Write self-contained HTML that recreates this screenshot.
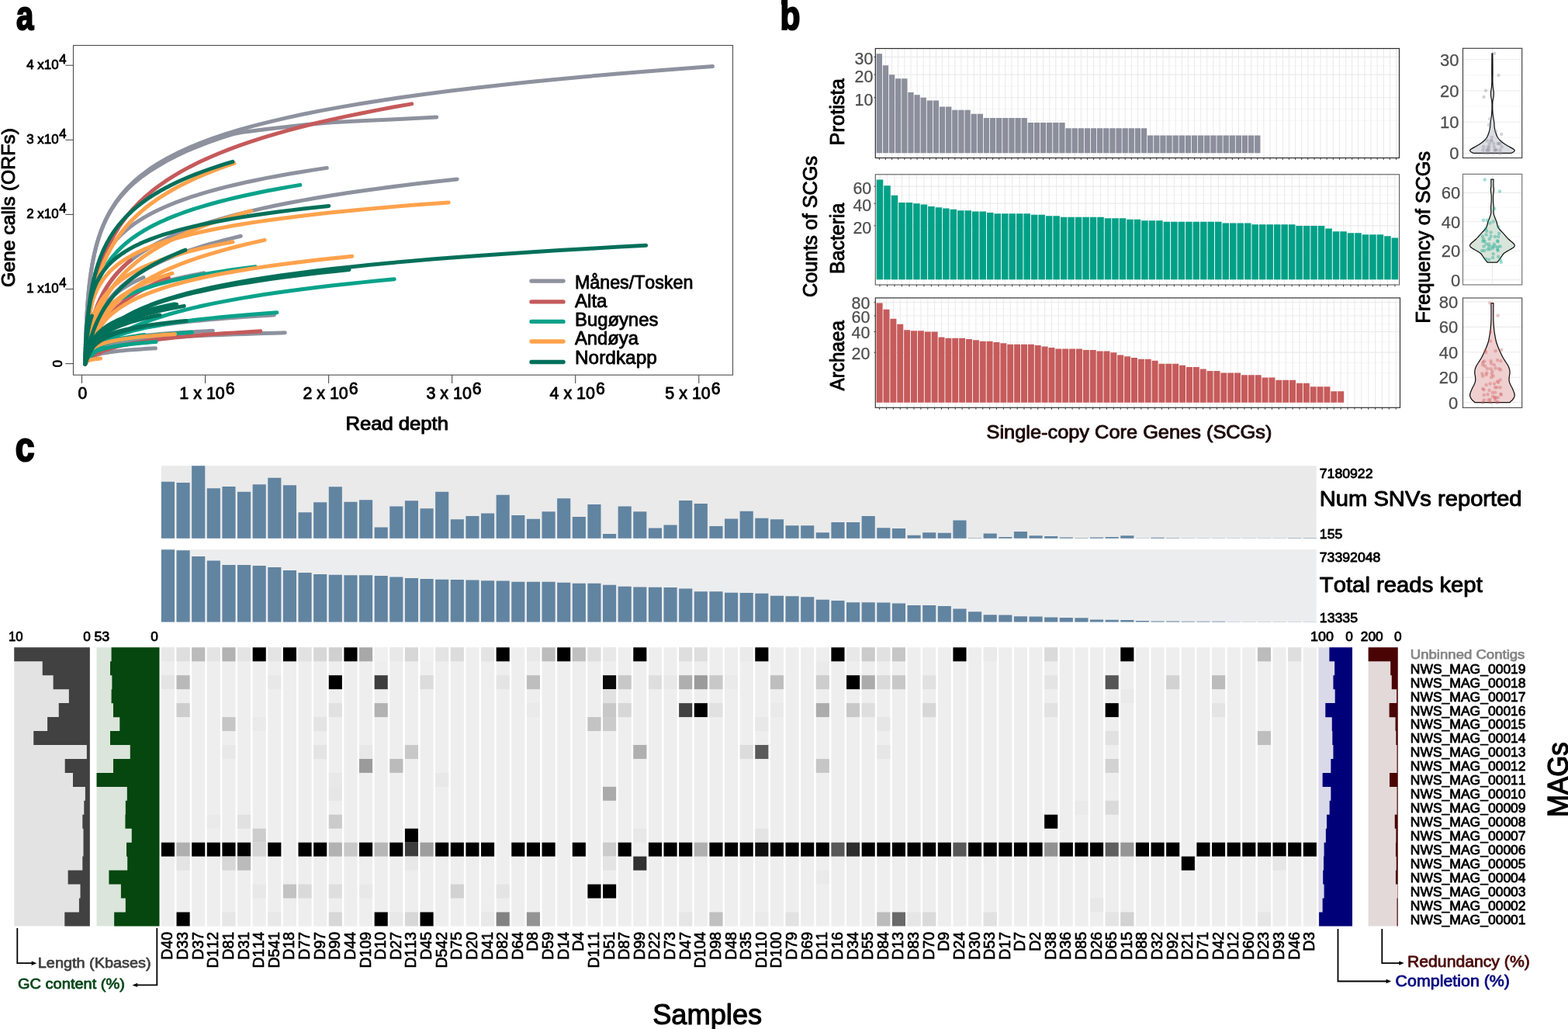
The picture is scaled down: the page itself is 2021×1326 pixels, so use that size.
<!DOCTYPE html>
<html lang="en"><head><meta charset="utf-8"><title>Figure</title>
<style>
html,body{margin:0;padding:0;background:#fff;}
svg{display:block;font-family:"Liberation Sans",sans-serif;}
text{white-space:pre;font-kerning:none;stroke-linejoin:round;}
</style></head><body>
<svg width="2021" height="1326" viewBox="0 0 2021 1326">
<rect width="2021" height="1326" fill="#fff"/>
<g id="panel-a">
<g fill="none" stroke-linecap="round" stroke-linejoin="round">
<path d="M109.7 468.9 L109.73 467.18 L109.91 459.19 L110.3 444.47 L110.96 425.64 L111.96 405.5 L113.33 385.76 L115.12 367.17 L117.37 349.95 L120.11 334.09 L123.4 319.48 L127.25 305.99 L131.7 293.49 L136.79 281.86 L142.55 271.01 L149.01 260.84 L156.19 251.28 L164.12 242.26 L172.84 233.74 L182.37 225.65 L192.74 217.96 L203.97 210.63 L216.09 203.64 L229.13 196.94 L243.1 190.53 L258.04 184.37 L273.96 178.45 L290.9 172.74 L308.87 167.24 L327.9 161.93 L348 156.8 L369.21 151.84 L391.54 147.03 L415.02 142.37 L439.66 137.84 L465.49 133.44 L492.53 129.17 L520.79 125.02 L550.31 120.97 L581.09 117.03 L613.17 113.19 L646.55 109.44 L681.26 105.78 L717.32 102.21 L754.75 98.72 L793.56 95.3 L833.78 91.96 L875.42 88.7 L918.5 85.5" stroke="#8E919E" stroke-width="5" fill="none"/>
<path d="M109.7 468.9 L109.73 467.4 L109.88 460.34 L110.22 447.09 L110.8 429.69 L111.67 410.67 L112.87 391.73 L114.43 373.69 L116.39 356.84 L118.78 341.25 L121.65 326.88 L125 313.65 L128.89 301.4 L133.33 290.02 L138.35 279.41 L143.98 269.5 L150.24 260.21 L157.16 251.48 L164.77 243.27 L173.08 235.51 L182.12 228.18 L191.92 221.23 L202.49 214.55 L213.86 207.87 L226.05 201.46 L239.07 195.31 L252.96 189.39 L267.73 183.69 L283.41 178.2 L300 172.89 L313 170.3 L323.6 169 L345 166.3 L365.2 164 L395.8 160.6 L427.5 157.8 L470 155.4 L515 153.5 L562.7 151" stroke="#8E919E" stroke-width="5" fill="none"/>
<path d="M109.7 468.9 L109.71 468.42 L109.78 466.04 L109.93 461.14 L110.19 453.82 L110.57 444.7 L111.1 434.52 L111.79 423.94 L112.65 413.38 L113.71 403.11 L114.98 393.27 L116.46 383.9 L118.18 375.02 L120.14 366.63 L122.36 358.69 L124.84 351.17 L127.61 344.04 L130.67 337.27 L134.03 330.84 L137.7 324.7 L141.69 318.85 L146.02 313.26 L150.69 307.91 L155.71 302.77 L161.09 297.84 L166.85 293.1 L172.99 288.54 L179.51 284.13 L186.43 279.89 L193.76 275.78 L201.51 271.81 L209.68 267.96 L218.28 264.24 L227.33 260.62 L236.82 257.11 L246.77 253.7 L257.19 250.38 L268.08 247.15 L279.45 244 L291.31 240.94 L303.67 237.95 L316.53 235.04 L329.9 232.19 L343.79 229.41 L358.21 226.69 L373.16 224.03 L388.66 221.44 L404.7 218.89 L421.3 216.4" stroke="#8E919E" stroke-width="5" fill="none"/>
<path d="M109.7 468.9 L109.72 468.68 L109.82 467.59 L110.05 465.22 L110.45 461.41 L111.04 456.2 L111.85 449.78 L112.91 442.46 L114.25 434.51 L115.87 426.22 L117.82 417.8 L120.1 409.41 L122.74 401.15 L125.76 393.09 L129.18 385.27 L133 377.72 L137.26 370.44 L141.96 363.44 L147.13 356.71 L152.78 350.23 L158.93 344 L165.59 338.01 L172.78 332.24 L180.5 326.68 L188.79 321.32 L197.64 316.14 L207.09 311.14 L217.13 306.31 L227.78 301.63 L239.06 297.1 L250.98 292.71 L263.55 288.45 L276.79 284.32 L290.71 280.3 L305.32 276.4 L320.63 272.6 L336.66 268.91 L353.42 265.31 L370.92 261.8 L389.17 258.38 L408.18 255.04 L427.97 251.78 L448.55 248.59 L469.93 245.48 L492.12 242.44 L515.13 239.46 L538.97 236.55 L563.66 233.69 L589.2 230.9" stroke="#8E919E" stroke-width="5" fill="none"/>
<path d="M109.7 468.9 L109.71 468.84 L109.75 468.53 L109.85 467.85 L110.01 466.7 L110.26 465.04 L110.6 462.85 L111.04 460.12 L111.6 456.9 L112.28 453.24 L113.1 449.21 L114.05 444.87 L115.16 440.3 L116.42 435.56 L117.85 430.71 L119.45 425.79 L121.23 420.86 L123.2 415.94 L125.36 411.06 L127.72 406.25 L130.3 401.5 L133.08 396.84 L136.09 392.27 L139.32 387.8 L142.79 383.43 L146.49 379.16 L150.44 375 L154.64 370.93 L159.1 366.96 L163.82 363.09 L168.8 359.31 L174.06 355.62 L179.6 352.02 L185.43 348.51 L191.54 345.08 L197.94 341.73 L204.65 338.46 L211.66 335.26 L218.98 332.14 L226.62 329.08 L234.57 326.09 L242.85 323.17 L251.46 320.3 L260.4 317.5 L269.69 314.75 L279.31 312.06 L289.29 309.42 L299.61 306.84 L310.3 304.3" stroke="#8E919E" stroke-width="5" fill="none"/>
<path d="M109.7 468.9 L109.71 468.83 L109.74 468.46 L109.81 467.66 L109.94 466.35 L110.13 464.49 L110.39 462.11 L110.73 459.28 L111.15 456.07 L111.67 452.59 L112.29 448.93 L113.02 445.15 L113.87 441.33 L114.83 437.51 L115.92 433.73 L117.15 430.02 L118.51 426.38 L120.01 422.84 L121.66 419.4 L123.47 416.06 L125.43 412.82 L127.56 409.69 L129.85 406.65 L132.32 403.71 L134.97 400.86 L137.8 398.11 L140.81 395.43 L144.02 392.84 L147.43 390.32 L151.03 387.88 L154.84 385.51 L158.86 383.21 L163.09 380.97 L167.53 378.79 L172.2 376.67 L177.09 374.6 L182.21 372.59 L187.57 370.63 L193.16 368.71 L198.99 366.85 L205.06 365.02 L211.39 363.24 L217.96 361.5 L224.79 359.79 L231.88 358.13 L239.23 356.49 L246.85 354.9 L254.74 353.33 L262.9 351.8" stroke="#8E919E" stroke-width="5" fill="none"/>
<path d="M109.7 468.9 L109.71 468.81 L109.77 468.38 L109.89 467.49 L110.1 466.2 L110.42 464.62 L110.86 462.91 L111.43 461.16 L112.14 459.44 L113.02 457.79 L114.06 456.22 L115.29 454.73 L116.71 453.34 L118.33 452.02 L120.16 450.78 L122.22 449.61 L124.51 448.5 L127.03 447.45 L129.81 446.45 L132.85 445.5 L136.15 444.59 L139.73 443.73 L143.59 442.9 L147.74 442.11 L152.19 441.35 L156.95 440.61 L162.02 439.91 L167.41 439.23 L173.14 438.58 L179.19 437.94 L185.6 437.33 L192.35 436.74 L199.47 436.16 L206.94 435.61 L214.79 435.07 L223.02 434.54 L231.63 434.03 L240.63 433.53 L250.03 433.05 L259.84 432.58 L270.05 432.12 L280.68 431.67 L291.74 431.23 L303.22 430.8 L315.15 430.38 L327.51 429.97 L340.32 429.57 L353.58 429.18 L367.3 428.8" stroke="#8E919E" stroke-width="5" fill="none"/>
<path d="M109.7 468.9 L109.71 468.83 L109.74 468.5 L109.82 467.79 L109.96 466.71 L110.16 465.34 L110.44 463.76 L110.8 462.07 L111.26 460.36 L111.82 458.67 L112.49 457.02 L113.27 455.44 L114.18 453.94 L115.22 452.5 L116.39 451.14 L117.7 449.85 L119.17 448.61 L120.78 447.44 L122.56 446.33 L124.5 445.26 L126.61 444.24 L128.9 443.27 L131.37 442.33 L134.02 441.44 L136.87 440.58 L139.91 439.75 L143.15 438.95 L146.6 438.18 L150.26 437.44 L154.13 436.72 L158.23 436.02 L162.55 435.35 L167.09 434.69 L171.87 434.06 L176.89 433.44 L182.15 432.85 L187.66 432.26 L193.41 431.7 L199.42 431.15 L205.69 430.61 L212.22 430.08 L219.02 429.57 L226.09 429.07 L233.43 428.58 L241.05 428.11 L248.96 427.64 L257.15 427.18 L265.63 426.74 L274.4 426.3" stroke="#8E919E" stroke-width="5" fill="none"/>
<path d="M109.7 468.9 L109.7 468.89 L109.72 468.82 L109.77 468.69 L109.84 468.46 L109.95 468.14 L110.11 467.73 L110.31 467.25 L110.56 466.7 L110.87 466.1 L111.24 465.47 L111.67 464.82 L112.17 464.17 L112.74 463.51 L113.38 462.86 L114.11 462.23 L114.91 461.6 L115.8 460.99 L116.78 460.4 L117.85 459.83 L119.01 459.27 L120.27 458.74 L121.63 458.22 L123.09 457.71 L124.66 457.22 L126.34 456.75 L128.12 456.29 L130.02 455.84 L132.04 455.41 L134.17 454.99 L136.42 454.59 L138.8 454.19 L141.31 453.81 L143.94 453.43 L146.7 453.07 L149.6 452.71 L152.63 452.37 L155.8 452.03 L159.11 451.7 L162.56 451.38 L166.16 451.07 L169.9 450.76 L173.8 450.46 L177.84 450.17 L182.04 449.89 L186.39 449.61 L190.9 449.33 L195.57 449.06 L200.4 448.8" stroke="#8E919E" stroke-width="5" fill="none"/>
<path d="M109.7 468.9 L109.71 468.85 L109.76 468.61 L109.88 468.08 L110.08 467.21 L110.38 466.01 L110.79 464.51 L111.33 462.76 L112.01 460.82 L112.84 458.76 L113.83 456.64 L114.99 454.49 L116.33 452.36 L117.86 450.25 L119.6 448.19 L121.54 446.19 L123.71 444.25 L126.1 442.37 L128.73 440.55 L131.6 438.8 L134.72 437.11 L138.11 435.48 L141.76 433.91 L145.68 432.39 L149.9 430.93 L154.4 429.51 L159.19 428.14 L164.3 426.81 L169.71 425.53 L175.45 424.28 L181.5 423.07 L187.89 421.9 L194.62 420.76 L201.7 419.66 L209.12 418.58 L216.9 417.53 L225.05 416.51 L233.57 415.52 L242.46 414.55 L251.74 413.6 L261.4 412.68 L271.46 411.78 L281.92 410.9 L292.78 410.04 L304.06 409.19 L315.75 408.37 L327.87 407.56 L340.42 406.77 L353.4 406" stroke="#8E919E" stroke-width="5" fill="none"/>
<path d="M109.7 468.9 L109.7 468.86 L109.72 468.68 L109.76 468.27 L109.82 467.59 L109.91 466.59 L110.04 465.26 L110.2 463.61 L110.41 461.63 L110.67 459.36 L110.98 456.83 L111.33 454.08 L111.75 451.16 L112.22 448.1 L112.76 444.94 L113.36 441.71 L114.03 438.44 L114.77 435.17 L115.58 431.89 L116.47 428.64 L117.43 425.42 L118.48 422.24 L119.61 419.12 L120.82 416.05 L122.12 413.04 L123.51 410.09 L124.99 407.2 L126.57 404.37 L128.24 401.61 L130.01 398.91 L131.89 396.27 L133.86 393.69 L135.94 391.17 L138.13 388.71 L140.42 386.3 L142.82 383.94 L145.34 381.64 L147.97 379.39 L150.72 377.19 L153.59 375.03 L156.57 372.92 L159.68 370.85 L162.91 368.83 L166.27 366.85 L169.75 364.9 L173.37 363 L177.11 361.13 L180.99 359.3 L185 357.5" stroke="#8E919E" stroke-width="5" fill="none"/>
<path d="M109.7 468.9 L109.72 468.59 L109.81 467.05 L110.01 463.72 L110.36 458.35 L110.88 451.02 L111.59 441.99 L112.52 431.68 L113.69 420.5 L115.12 408.83 L116.83 396.98 L118.83 385.16 L121.15 373.53 L123.8 362.19 L126.8 351.18 L130.16 340.56 L133.9 330.32 L138.03 320.46 L142.57 310.98 L147.53 301.87 L152.92 293.1 L158.77 284.66 L165.08 276.54 L171.87 268.71 L179.14 261.17 L186.91 253.88 L195.2 246.84 L204.02 240.04 L213.37 233.46 L223.28 227.08 L233.74 220.9 L244.78 214.91 L256.4 209.09 L268.62 203.44 L281.45 197.95 L294.9 192.6 L308.97 187.4 L323.68 182.33 L339.05 177.39 L355.07 172.57 L371.77 167.87 L389.14 163.29 L407.21 158.8 L425.98 154.42 L445.46 150.14 L465.67 145.95 L486.6 141.85 L508.27 137.83 L530.7 133.9" stroke="#C55A5B" stroke-width="5" fill="none"/>
<path d="M109.7 468.9 L109.71 468.89 L109.76 468.82 L109.87 468.66 L110.05 468.4 L110.33 468.03 L110.71 467.53 L111.21 466.9 L111.84 466.15 L112.61 465.29 L113.53 464.34 L114.61 463.3 L115.85 462.2 L117.27 461.04 L118.88 459.84 L120.69 458.62 L122.7 457.39 L124.91 456.15 L127.35 454.91 L130.02 453.68 L132.91 452.47 L136.05 451.27 L139.44 450.09 L143.09 448.93 L146.99 447.79 L151.17 446.67 L155.62 445.58 L160.35 444.51 L165.38 443.47 L170.7 442.45 L176.32 441.45 L182.25 440.48 L188.49 439.52 L195.05 438.59 L201.94 437.68 L209.16 436.79 L216.72 435.92 L224.62 435.07 L232.87 434.24 L241.48 433.42 L250.44 432.63 L259.78 431.85 L269.48 431.08 L279.56 430.33 L290.02 429.6 L300.87 428.88 L312.12 428.17 L323.76 427.48 L335.8 426.8" stroke="#C55A5B" stroke-width="5" fill="none"/>
<path d="M109.7 468.9 L109.7 468.87 L109.72 468.74 L109.74 468.44 L109.79 467.93 L109.86 467.18 L109.96 466.17 L110.09 464.87 L110.26 463.29 L110.46 461.42 L110.69 459.26 L110.97 456.85 L111.3 454.18 L111.67 451.3 L112.08 448.22 L112.55 444.97 L113.07 441.58 L113.65 438.07 L114.28 434.47 L114.97 430.8 L115.73 427.08 L116.54 423.33 L117.42 419.56 L118.37 415.8 L119.38 412.04 L120.47 408.3 L121.62 404.59 L122.85 400.92 L124.16 397.28 L125.54 393.69 L127 390.15 L128.53 386.65 L130.16 383.21 L131.86 379.82 L133.65 376.49 L135.52 373.21 L137.48 369.98 L139.54 366.81 L141.68 363.69 L143.91 360.63 L146.24 357.62 L148.66 354.66 L151.18 351.75 L153.8 348.89 L156.52 346.08 L159.33 343.31 L162.25 340.6 L165.27 337.93 L168.4 335.3" stroke="#C55A5B" stroke-width="5" fill="none"/>
<path d="M109.7 468.9 L109.7 468.88 L109.73 468.78 L109.78 468.56 L109.87 468.18 L110 467.62 L110.18 466.87 L110.42 465.9 L110.72 464.7 L111.09 463.29 L111.52 461.65 L112.04 459.8 L112.63 457.75 L113.31 455.51 L114.07 453.11 L114.93 450.55 L115.89 447.86 L116.95 445.06 L118.11 442.17 L119.38 439.2 L120.76 436.17 L122.25 433.1 L123.87 430 L125.6 426.88 L127.46 423.76 L129.45 420.63 L131.57 417.52 L133.83 414.43 L136.22 411.36 L138.76 408.31 L141.43 405.3 L144.26 402.31 L147.23 399.37 L150.36 396.47 L153.64 393.6 L157.08 390.77 L160.68 387.99 L164.44 385.25 L168.37 382.55 L172.47 379.89 L176.74 377.28 L181.19 374.7 L185.81 372.17 L190.61 369.68 L195.59 367.22 L200.76 364.81 L206.12 362.44 L211.66 360.1 L217.4 357.8" stroke="#C55A5B" stroke-width="5" fill="none"/>
<path d="M109.7 468.9 L109.71 468.61 L109.77 467.16 L109.91 464.06 L110.13 459.22 L110.47 452.82 L110.94 445.26 L111.56 436.94 L112.33 428.26 L113.27 419.49 L114.39 410.82 L115.71 402.38 L117.24 394.22 L118.98 386.4 L120.95 378.9 L123.17 371.73 L125.63 364.89 L128.35 358.35 L131.33 352.1 L134.6 346.12 L138.15 340.39 L142 334.89 L146.15 329.62 L150.62 324.55 L155.4 319.68 L160.52 314.98 L165.98 310.46 L171.78 306.08 L177.94 301.86 L184.46 297.77 L191.34 293.82 L198.61 289.98 L206.26 286.27 L214.3 282.66 L222.75 279.15 L231.6 275.74 L240.86 272.43 L250.54 269.2 L260.65 266.05 L271.2 262.98 L282.19 259.99 L293.63 257.07 L305.52 254.22 L317.87 251.44 L330.7 248.72 L343.99 246.05 L357.77 243.45 L372.04 240.9 L386.8 238.4" stroke="#09A28A" stroke-width="5" fill="none"/>
<path d="M109.7 468.9 L109.72 468.87 L109.8 468.75 L109.99 468.47 L110.32 467.99 L110.81 467.28 L111.49 466.34 L112.37 465.13 L113.48 463.67 L114.83 461.95 L116.45 459.99 L118.35 457.81 L120.54 455.43 L123.05 452.88 L125.89 450.18 L129.07 447.36 L132.6 444.44 L136.51 441.44 L140.81 438.4 L145.51 435.32 L150.61 432.22 L156.15 429.12 L162.12 426.02 L168.54 422.95 L175.43 419.9 L182.79 416.88 L190.63 413.9 L198.98 410.95 L207.83 408.06 L217.21 405.2 L227.11 402.4 L237.56 399.64 L248.56 396.93 L260.13 394.27 L272.27 391.66 L285 389.1 L298.32 386.59 L312.25 384.12 L326.79 381.7 L341.96 379.32 L357.76 376.99 L374.21 374.7 L391.31 372.45 L409.08 370.25 L427.52 368.08 L446.64 365.96 L466.46 363.87 L486.97 361.82 L508.2 359.8" stroke="#09A28A" stroke-width="5" fill="none"/>
<path d="M109.7 468.9 L109.71 468.87 L109.76 468.72 L109.88 468.38 L110.09 467.82 L110.39 467.01 L110.81 465.96 L111.36 464.67 L112.04 463.18 L112.88 461.51 L113.88 459.69 L115.06 457.78 L116.42 455.79 L117.98 453.77 L119.74 451.72 L121.71 449.68 L123.9 447.65 L126.33 445.65 L128.99 443.69 L131.9 441.76 L135.07 439.88 L138.5 438.04 L142.2 436.25 L146.19 434.5 L150.46 432.81 L155.02 431.15 L159.89 429.55 L165.06 427.98 L170.55 426.46 L176.36 424.98 L182.5 423.54 L188.98 422.14 L195.81 420.77 L202.98 419.44 L210.51 418.14 L218.4 416.87 L226.66 415.64 L235.29 414.43 L244.31 413.25 L253.72 412.1 L263.52 410.98 L273.71 409.88 L284.32 408.8 L295.34 407.75 L306.77 406.72 L318.63 405.71 L330.92 404.72 L343.64 403.75 L356.8 402.8" stroke="#09A28A" stroke-width="5" fill="none"/>
<path d="M109.7 468.9 L109.71 468.78 L109.76 468.21 L109.86 466.96 L110.04 464.96 L110.31 462.22 L110.69 458.85 L111.17 455 L111.78 450.83 L112.53 446.47 L113.42 442.04 L114.46 437.63 L115.67 433.29 L117.06 429.05 L118.62 424.94 L120.37 420.97 L122.32 417.15 L124.48 413.47 L126.84 409.93 L129.43 406.52 L132.25 403.25 L135.3 400.1 L138.59 397.07 L142.13 394.14 L145.92 391.33 L149.98 388.6 L154.3 385.98 L158.9 383.44 L163.78 380.98 L168.94 378.6 L174.4 376.29 L180.16 374.05 L186.22 371.88 L192.6 369.77 L199.29 367.72 L206.3 365.72 L213.64 363.78 L221.32 361.89 L229.33 360.04 L237.69 358.24 L246.4 356.49 L255.46 354.77 L264.89 353.1 L274.68 351.46 L284.84 349.86 L295.38 348.3 L306.3 346.77 L317.6 345.27 L329.3 343.8" stroke="#09A28A" stroke-width="5" fill="none"/>
<path d="M109.7 468.9 L109.71 468.86 L109.74 468.68 L109.8 468.27 L109.92 467.62 L110.08 466.73 L110.32 465.64 L110.62 464.39 L111.01 463.03 L111.47 461.62 L112.03 460.18 L112.69 458.75 L113.45 457.34 L114.31 455.97 L115.29 454.63 L116.39 453.35 L117.61 452.1 L118.97 450.91 L120.45 449.76 L122.07 448.66 L123.84 447.59 L125.75 446.57 L127.81 445.59 L130.03 444.64 L132.41 443.72 L134.96 442.84 L137.67 441.99 L140.55 441.16 L143.61 440.37 L146.85 439.59 L150.27 438.84 L153.88 438.12 L157.68 437.41 L161.68 436.73 L165.88 436.06 L170.27 435.41 L174.88 434.78 L179.69 434.17 L184.71 433.57 L189.96 432.99 L195.42 432.42 L201.1 431.86 L207.01 431.32 L213.15 430.79 L219.52 430.27 L226.13 429.76 L232.98 429.26 L240.07 428.78 L247.4 428.3" stroke="#09A28A" stroke-width="5" fill="none"/>
<path d="M109.7 468.9 L109.7 468.88 L109.72 468.79 L109.77 468.6 L109.84 468.28 L109.96 467.83 L110.11 467.25 L110.31 466.57 L110.57 465.79 L110.88 464.95 L111.25 464.06 L111.68 463.14 L112.18 462.21 L112.76 461.29 L113.41 460.37 L114.14 459.47 L114.95 458.59 L115.84 457.73 L116.83 456.9 L117.9 456.09 L119.07 455.3 L120.34 454.54 L121.71 453.8 L123.18 453.09 L124.76 452.4 L126.45 451.73 L128.24 451.08 L130.15 450.45 L132.18 449.84 L134.33 449.25 L136.6 448.68 L138.99 448.12 L141.52 447.57 L144.17 447.05 L146.95 446.53 L149.86 446.03 L152.91 445.54 L156.11 445.07 L159.44 444.6 L162.91 444.15 L166.53 443.71 L170.3 443.27 L174.22 442.85 L178.29 442.44 L182.51 442.03 L186.9 441.64 L191.44 441.25 L196.14 440.87 L201 440.5" stroke="#09A28A" stroke-width="5" fill="none"/>
<path d="M109.7 468.9 L109.7 468.87 L109.73 468.75 L109.79 468.47 L109.88 467.99 L110.02 467.3 L110.22 466.38 L110.47 465.24 L110.79 463.87 L111.18 462.3 L111.65 460.55 L112.2 458.65 L112.84 456.62 L113.56 454.5 L114.38 452.32 L115.3 450.08 L116.33 447.82 L117.46 445.55 L118.7 443.29 L120.06 441.03 L121.54 438.81 L123.14 436.61 L124.87 434.45 L126.73 432.32 L128.72 430.24 L130.85 428.19 L133.12 426.2 L135.53 424.24 L138.09 422.33 L140.81 420.46 L143.67 418.63 L146.69 416.85 L149.88 415.1 L153.22 413.4 L156.74 411.73 L160.42 410.1 L164.27 408.51 L168.3 406.95 L172.51 405.42 L176.9 403.93 L181.47 402.47 L186.23 401.04 L191.18 399.64 L196.32 398.27 L201.66 396.92 L207.19 395.61 L212.92 394.31 L218.86 393.04 L225 391.8" stroke="#09A28A" stroke-width="5" fill="none"/>
<path d="M109.7 468.9 L109.7 468.88 L109.72 468.8 L109.76 468.61 L109.82 468.29 L109.91 467.83 L110.04 467.24 L110.21 466.51 L110.42 465.66 L110.68 464.72 L110.99 463.69 L111.36 462.61 L111.78 461.48 L112.26 460.34 L112.8 459.18 L113.41 458.03 L114.09 456.88 L114.83 455.75 L115.66 454.63 L116.56 453.54 L117.53 452.48 L118.59 451.44 L119.74 450.42 L120.97 449.44 L122.28 448.48 L123.69 447.54 L125.2 446.63 L126.79 445.75 L128.49 444.89 L130.28 444.05 L132.18 443.24 L134.18 442.44 L136.29 441.67 L138.5 440.91 L140.83 440.18 L143.26 439.46 L145.81 438.76 L148.48 438.08 L151.27 437.41 L154.17 436.76 L157.2 436.13 L160.34 435.5 L163.62 434.9 L167.02 434.3 L170.55 433.72 L174.21 433.15 L178.01 432.59 L181.94 432.04 L186 431.5" stroke="#09A28A" stroke-width="5" fill="none"/>
<path d="M109.7 468.9 L109.71 468.76 L109.75 468.06 L109.84 466.51 L110 463.95 L110.24 460.31 L110.56 455.59 L110.99 449.91 L111.52 443.39 L112.17 436.22 L112.95 428.57 L113.87 420.6 L114.93 412.44 L116.14 404.21 L117.5 396 L119.04 387.87 L120.74 379.87 L122.63 372.02 L124.7 364.37 L126.96 356.91 L129.42 349.65 L132.09 342.6 L134.97 335.76 L138.07 329.11 L141.38 322.66 L144.93 316.4 L148.71 310.33 L152.74 304.43 L157.01 298.7 L161.52 293.14 L166.3 287.73 L171.34 282.46 L176.64 277.34 L182.22 272.36 L188.07 267.5 L194.2 262.77 L200.63 258.16 L207.34 253.66 L214.35 249.27 L221.66 244.98 L229.28 240.79 L237.21 236.7 L245.45 232.69 L254.02 228.78 L262.91 224.95 L272.12 221.2 L281.68 217.52 L291.57 213.93 L301.8 210.4" stroke="#FFA24C" stroke-width="5" fill="none"/>
<path d="M109.7 468.9 L109.72 468.2 L109.82 464.84 L110.05 458.37 L110.43 449.57 L111.01 439.66 L111.8 429.53 L112.84 419.71 L114.14 410.43 L115.73 401.76 L117.63 393.69 L119.86 386.18 L122.45 379.19 L125.39 372.66 L128.73 366.55 L132.47 360.8 L136.63 355.39 L141.22 350.28 L146.28 345.45 L151.8 340.85 L157.8 336.48 L164.31 332.31 L171.33 328.33 L178.88 324.52 L186.97 320.86 L195.63 317.35 L204.85 313.97 L214.66 310.72 L225.07 307.59 L236.09 304.56 L247.74 301.63 L260.02 298.79 L272.96 296.05 L286.56 293.39 L300.83 290.8 L315.79 288.29 L331.45 285.85 L347.83 283.48 L364.92 281.17 L382.76 278.92 L401.33 276.72 L420.67 274.58 L440.78 272.49 L461.67 270.45 L483.35 268.45 L505.83 266.5 L529.12 264.59 L553.24 262.73 L578.2 260.9" stroke="#FFA24C" stroke-width="5" fill="none"/>
<path d="M109.7 468.9 L109.71 468.84 L109.76 468.51 L109.86 467.79 L110.03 466.58 L110.3 464.81 L110.66 462.46 L111.13 459.53 L111.73 456.03 L112.46 452.01 L113.33 447.53 L114.35 442.67 L115.53 437.5 L116.88 432.08 L118.4 426.48 L120.11 420.77 L122.01 414.99 L124.11 409.18 L126.42 403.39 L128.95 397.63 L131.69 391.93 L134.67 386.31 L137.88 380.78 L141.33 375.34 L145.03 370.01 L148.99 364.79 L153.2 359.68 L157.69 354.67 L162.45 349.78 L167.49 345 L172.81 340.33 L178.43 335.77 L184.34 331.3 L190.56 326.94 L197.09 322.68 L203.93 318.51 L211.09 314.44 L218.57 310.45 L226.39 306.55 L234.54 302.73 L243.04 299 L251.88 295.34 L261.07 291.75 L270.62 288.24 L280.53 284.8 L290.81 281.43 L301.46 278.13 L312.49 274.88 L323.9 271.7" stroke="#FFA24C" stroke-width="5" fill="none"/>
<path d="M109.7 468.9 L109.71 468.86 L109.76 468.63 L109.87 468.13 L110.06 467.29 L110.35 466.05 L110.74 464.4 L111.25 462.31 L111.89 459.8 L112.68 456.89 L113.62 453.62 L114.72 450.02 L115.99 446.14 L117.45 442.03 L119.09 437.75 L120.94 433.33 L122.99 428.81 L125.26 424.23 L127.76 419.63 L130.48 415.01 L133.45 410.42 L136.66 405.86 L140.13 401.35 L143.85 396.89 L147.85 392.5 L152.12 388.18 L156.68 383.94 L161.52 379.77 L166.66 375.69 L172.1 371.69 L177.85 367.76 L183.91 363.92 L190.3 360.16 L197.01 356.48 L204.06 352.87 L211.45 349.34 L219.18 345.88 L227.26 342.49 L235.7 339.18 L244.51 335.93 L253.68 332.74 L263.23 329.62 L273.15 326.56 L283.47 323.56 L294.17 320.62 L305.27 317.74 L316.77 314.91 L328.68 312.13 L341 309.4" stroke="#FFA24C" stroke-width="5" fill="none"/>
<path d="M109.7 468.9 L109.71 468.78 L109.75 468.17 L109.84 466.84 L110 464.68 L110.23 461.69 L110.55 457.93 L110.97 453.55 L111.5 448.71 L112.15 443.57 L112.92 438.26 L113.83 432.9 L114.88 427.56 L116.07 422.29 L117.43 417.15 L118.95 412.14 L120.64 407.28 L122.5 402.59 L124.56 398.06 L126.8 393.68 L129.24 389.46 L131.88 385.39 L134.73 381.46 L137.8 377.66 L141.09 374 L144.6 370.46 L148.35 367.03 L152.33 363.72 L156.56 360.5 L161.04 357.39 L165.77 354.37 L170.76 351.44 L176.01 348.6 L181.54 345.83 L187.33 343.14 L193.41 340.52 L199.77 337.97 L206.42 335.48 L213.37 333.06 L220.61 330.7 L228.16 328.39 L236.01 326.14 L244.18 323.94 L252.66 321.79 L261.47 319.68 L270.6 317.62 L280.07 315.61 L289.86 313.63 L300 311.7" stroke="#FFA24C" stroke-width="5" fill="none"/>
<path d="M109.7 468.9 L109.71 468.82 L109.79 468.42 L109.95 467.53 L110.24 466.06 L110.66 463.98 L111.24 461.31 L112.01 458.1 L112.96 454.45 L114.13 450.46 L115.53 446.24 L117.17 441.86 L119.06 437.4 L121.23 432.93 L123.68 428.49 L126.42 424.11 L129.48 419.81 L132.85 415.61 L136.56 411.52 L140.62 407.54 L145.03 403.68 L149.81 399.94 L154.96 396.3 L160.51 392.78 L166.46 389.37 L172.81 386.06 L179.59 382.85 L186.79 379.74 L194.44 376.72 L202.53 373.79 L211.08 370.93 L220.11 368.16 L229.61 365.47 L239.6 362.84 L250.08 360.29 L261.07 357.8 L272.57 355.38 L284.6 353.01 L297.15 350.7 L310.25 348.45 L323.9 346.25 L338.1 344.1 L352.87 342 L368.21 339.94 L384.13 337.93 L400.64 335.97 L417.75 334.04 L435.47 332.15 L453.8 330.3" stroke="#FFA24C" stroke-width="5" fill="none"/>
<path d="M109.7 468.9 L109.7 468.86 L109.73 468.67 L109.78 468.24 L109.88 467.53 L110.01 466.48 L110.2 465.09 L110.45 463.35 L110.76 461.28 L111.15 458.9 L111.6 456.26 L112.14 453.38 L112.76 450.32 L113.46 447.11 L114.26 443.8 L115.16 440.42 L116.15 437 L117.26 433.56 L118.47 430.13 L119.79 426.72 L121.23 423.35 L122.79 420.02 L124.47 416.75 L126.28 413.53 L128.22 410.38 L130.3 407.29 L132.51 404.26 L134.86 401.3 L137.35 398.41 L140 395.58 L142.79 392.82 L145.73 390.11 L148.83 387.47 L152.09 384.89 L155.51 382.37 L159.1 379.9 L162.85 377.49 L166.78 375.13 L170.88 372.82 L175.15 370.56 L179.61 368.35 L184.24 366.19 L189.06 364.07 L194.07 361.99 L199.26 359.96 L204.65 357.96 L210.24 356 L216.02 354.08 L222 352.2" stroke="#FFA24C" stroke-width="5" fill="none"/>
<path d="M109.7 468.9 L109.7 468.85 L109.73 468.61 L109.79 468.09 L109.88 467.29 L110.02 466.22 L110.22 464.96 L110.48 463.58 L110.8 462.13 L111.19 460.67 L111.66 459.22 L112.21 457.82 L112.85 456.46 L113.58 455.16 L114.4 453.91 L115.33 452.71 L116.36 451.57 L117.49 450.48 L118.74 449.44 L120.1 448.44 L121.59 447.49 L123.2 446.58 L124.93 445.7 L126.8 444.85 L128.8 444.04 L130.94 443.26 L133.22 442.5 L135.64 441.78 L138.22 441.07 L140.94 440.39 L143.82 439.73 L146.86 439.09 L150.05 438.47 L153.41 437.87 L156.94 437.29 L160.64 436.72 L164.51 436.17 L168.56 435.63 L172.78 435.11 L177.19 434.6 L181.78 434.1 L186.56 433.61 L191.53 433.14 L196.7 432.67 L202.05 432.22 L207.61 431.78 L213.37 431.34 L219.33 430.92 L225.5 430.5" stroke="#FFA24C" stroke-width="5" fill="none"/>
<path d="M109.7 468.9 L109.7 468.9 L109.71 468.88 L109.71 468.84 L109.73 468.77 L109.76 468.67 L109.79 468.54 L109.83 468.39 L109.89 468.22 L109.95 468.03 L110.04 467.82 L110.13 467.61 L110.24 467.39 L110.36 467.17 L110.5 466.95 L110.66 466.74 L110.84 466.52 L111.03 466.31 L111.25 466.11 L111.48 465.91 L111.73 465.72 L112.01 465.53 L112.3 465.35 L112.62 465.17 L112.97 465 L113.33 464.83 L113.72 464.67 L114.14 464.51 L114.58 464.36 L115.04 464.21 L115.53 464.06 L116.05 463.92 L116.6 463.79 L117.17 463.65 L117.78 463.52 L118.41 463.4 L119.07 463.27 L119.76 463.15 L120.49 463.04 L121.24 462.92 L122.03 462.81 L122.84 462.7 L123.69 462.6 L124.57 462.49 L125.49 462.39 L126.44 462.29 L127.43 462.19 L128.45 462.09 L129.5 462" stroke="#FFA24C" stroke-width="5" fill="none"/>
<path d="M109.7 468.9 L109.73 468.81 L109.89 468.37 L110.24 467.39 L110.83 465.77 L111.72 463.48 L112.94 460.54 L114.54 457.01 L116.55 452.99 L119.01 448.6 L121.94 443.95 L125.38 439.13 L129.37 434.22 L133.92 429.3 L139.06 424.41 L144.83 419.58 L151.25 414.85 L158.34 410.23 L166.14 405.72 L174.65 401.34 L183.92 397.09 L193.96 392.97 L204.79 388.97 L216.44 385.1 L228.93 381.34 L242.29 377.7 L256.52 374.16 L271.66 370.74 L287.72 367.41 L304.72 364.18 L322.69 361.04 L341.65 357.99 L361.61 355.02 L382.59 352.13 L404.61 349.32 L427.7 346.58 L451.87 343.91 L477.13 341.31 L503.51 338.76 L531.03 336.28 L559.69 333.86 L589.53 331.5 L620.56 329.18 L652.79 326.92 L686.24 324.7 L720.93 322.54 L756.87 320.42 L794.09 318.34 L832.6 316.3" stroke="#03705A" stroke-width="5" fill="none"/>
<path d="M109.7 468.9 L109.71 468.85 L109.79 468.63 L109.95 468.12 L110.23 467.28 L110.65 466.06 L111.23 464.44 L111.98 462.43 L112.93 460.06 L114.08 457.36 L115.46 454.39 L117.08 451.19 L118.96 447.82 L121.1 444.33 L123.52 440.75 L126.24 437.13 L129.26 433.5 L132.6 429.87 L136.27 426.28 L140.28 422.73 L144.64 419.23 L149.36 415.8 L154.46 412.43 L159.95 409.14 L165.83 405.92 L172.11 402.77 L178.81 399.7 L185.94 396.7 L193.5 393.78 L201.51 390.92 L209.97 388.14 L218.89 385.42 L228.28 382.77 L238.16 380.18 L248.53 377.65 L259.4 375.19 L270.77 372.78 L282.67 370.42 L295.08 368.12 L308.04 365.86 L321.53 363.66 L335.58 361.5 L350.18 359.39 L365.35 357.33 L381.1 355.3 L397.43 353.32 L414.35 351.38 L431.87 349.47 L450 347.6" stroke="#03705A" stroke-width="5" fill="none"/>
<path d="M109.7 468.9 L109.71 468.21 L109.78 464.93 L109.93 458.59 L110.19 449.99 L110.58 440.29 L111.11 430.38 L111.8 420.78 L112.68 411.7 L113.74 403.21 L115.02 395.32 L116.51 387.97 L118.24 381.13 L120.22 374.74 L122.46 368.76 L124.96 363.14 L127.75 357.85 L130.84 352.85 L134.22 348.12 L137.92 343.62 L141.95 339.35 L146.31 335.27 L151.02 331.37 L156.08 327.64 L161.51 324.07 L167.31 320.63 L173.49 317.33 L180.07 314.14 L187.05 311.08 L194.44 308.11 L202.25 305.25 L210.48 302.47 L219.15 299.79 L228.27 297.18 L237.84 294.65 L247.87 292.2 L258.37 289.81 L269.35 287.49 L280.81 285.23 L292.77 283.03 L305.22 280.88 L318.19 278.78 L331.67 276.74 L345.67 274.74 L360.21 272.79 L375.28 270.88 L390.9 269.01 L407.07 267.19 L423.8 265.4" stroke="#03705A" stroke-width="5" fill="none"/>
<path d="M109.7 468.9 L109.71 468.66 L109.75 467.46 L109.84 464.87 L110 460.7 L110.23 455 L110.55 447.98 L110.97 439.96 L111.5 431.26 L112.15 422.19 L112.92 412.97 L113.83 403.78 L114.87 394.74 L116.07 385.92 L117.43 377.36 L118.94 369.1 L120.63 361.14 L122.5 353.47 L124.55 346.1 L126.79 339.01 L129.23 332.2 L131.87 325.64 L134.72 319.32 L137.79 313.23 L141.07 307.36 L144.58 301.7 L148.33 296.23 L152.31 290.94 L156.54 285.82 L161.01 280.86 L165.74 276.05 L170.73 271.39 L175.98 266.87 L181.5 262.47 L187.29 258.2 L193.37 254.05 L199.73 250 L206.37 246.06 L213.31 242.22 L220.55 238.47 L228.1 234.82 L235.95 231.25 L244.11 227.77 L252.59 224.36 L261.39 221.03 L270.52 217.77 L279.98 214.58 L289.77 211.46 L299.9 208.4" stroke="#03705A" stroke-width="5" fill="none"/>
<path d="M109.7 468.9 L109.71 468.87 L109.73 468.7 L109.8 468.32 L109.9 467.67 L110.06 466.73 L110.28 465.45 L110.57 463.83 L110.93 461.87 L111.36 459.56 L111.89 456.92 L112.51 453.99 L113.22 450.79 L114.03 447.36 L114.95 443.73 L115.98 439.93 L117.13 436 L118.4 431.98 L119.79 427.88 L121.32 423.74 L122.98 419.58 L124.77 415.41 L126.71 411.25 L128.79 407.11 L131.03 403.01 L133.41 398.95 L135.96 394.94 L138.67 390.98 L141.54 387.09 L144.58 383.25 L147.8 379.48 L151.19 375.77 L154.76 372.13 L158.51 368.56 L162.45 365.05 L166.58 361.6 L170.9 358.22 L175.42 354.9 L180.14 351.64 L185.06 348.45 L190.19 345.31 L195.52 342.24 L201.07 339.21 L206.84 336.25 L212.82 333.34 L219.03 330.48 L225.46 327.67 L232.11 324.91 L239 322.2" stroke="#03705A" stroke-width="5" fill="none"/>
<path d="M109.7 468.9 L109.71 468.88 L109.73 468.75 L109.79 468.48 L109.9 468.02 L110.06 467.36 L110.27 466.47 L110.55 465.36 L110.91 464.04 L111.34 462.52 L111.86 460.83 L112.47 458.99 L113.17 457.04 L113.97 454.99 L114.88 452.87 L115.9 450.72 L117.03 448.53 L118.28 446.34 L119.65 444.15 L121.16 441.97 L122.79 439.82 L124.56 437.7 L126.47 435.61 L128.53 433.55 L130.73 431.54 L133.08 429.57 L135.59 427.64 L138.26 425.75 L141.1 423.9 L144.1 422.09 L147.27 420.33 L150.61 418.6 L154.13 416.92 L157.83 415.27 L161.71 413.66 L165.79 412.08 L170.05 410.55 L174.5 409.04 L179.16 407.57 L184.01 406.12 L189.07 404.71 L194.33 403.33 L199.8 401.98 L205.49 400.65 L211.39 399.35 L217.5 398.08 L223.84 396.83 L230.41 395.6 L237.2 394.4" stroke="#03705A" stroke-width="5" fill="none"/>
<path d="M109.7 468.9 L109.71 468.86 L109.73 468.69 L109.79 468.3 L109.88 467.65 L110.03 466.71 L110.23 465.49 L110.49 464 L110.82 462.26 L111.22 460.32 L111.7 458.22 L112.26 456 L112.91 453.69 L113.65 451.34 L114.49 448.97 L115.43 446.6 L116.48 444.25 L117.63 441.93 L118.9 439.64 L120.29 437.41 L121.8 435.22 L123.44 433.09 L125.21 431.01 L127.11 428.99 L129.15 427.02 L131.32 425.1 L133.65 423.24 L136.11 421.42 L138.73 419.66 L141.51 417.94 L144.44 416.27 L147.53 414.64 L150.78 413.05 L154.21 411.51 L157.8 410 L161.56 408.53 L165.5 407.1 L169.63 405.7 L173.93 404.33 L178.42 402.99 L183.09 401.69 L187.96 400.41 L193.02 399.16 L198.27 397.94 L203.73 396.75 L209.39 395.57 L215.25 394.43 L221.32 393.3 L227.6 392.2" stroke="#03705A" stroke-width="5" fill="none"/>
<path d="M109.7 468.9 L109.71 468.86 L109.73 468.64 L109.8 468.17 L109.9 467.41 L110.06 466.35 L110.29 465.03 L110.57 463.48 L110.94 461.77 L111.38 459.96 L111.91 458.08 L112.53 456.19 L113.25 454.3 L114.07 452.45 L115 450.63 L116.04 448.86 L117.2 447.15 L118.48 445.49 L119.89 443.89 L121.43 442.34 L123.1 440.85 L124.91 439.42 L126.87 438.03 L128.97 436.69 L131.22 435.4 L133.63 434.14 L136.2 432.93 L138.94 431.76 L141.84 430.63 L144.91 429.53 L148.15 428.47 L151.57 427.43 L155.18 426.43 L158.96 425.45 L162.94 424.5 L167.11 423.57 L171.47 422.67 L176.03 421.8 L180.79 420.94 L185.76 420.11 L190.93 419.29 L196.32 418.5 L201.92 417.72 L207.74 416.96 L213.78 416.22 L220.04 415.49 L226.53 414.78 L233.25 414.08 L240.2 413.4" stroke="#03705A" stroke-width="5" fill="none"/>
<path d="M109.7 468.9 L109.7 468.88 L109.72 468.78 L109.77 468.55 L109.85 468.16 L109.97 467.6 L110.13 466.85 L110.35 465.91 L110.61 464.79 L110.94 463.51 L111.33 462.08 L111.79 460.53 L112.32 458.88 L112.93 457.15 L113.61 455.37 L114.38 453.55 L115.23 451.7 L116.18 449.85 L117.22 448 L118.35 446.17 L119.59 444.35 L120.92 442.56 L122.37 440.79 L123.92 439.06 L125.58 437.36 L127.36 435.69 L129.26 434.06 L131.27 432.47 L133.41 430.91 L135.68 429.38 L138.07 427.89 L140.6 426.43 L143.26 425.01 L146.05 423.62 L148.99 422.26 L152.06 420.93 L155.28 419.63 L158.65 418.36 L162.16 417.12 L165.83 415.9 L169.65 414.71 L173.62 413.54 L177.75 412.4 L182.05 411.28 L186.5 410.18 L191.12 409.1 L195.91 408.05 L200.87 407.02 L206 406" stroke="#03705A" stroke-width="5" fill="none"/>
<path d="M109.7 468.9 L109.7 468.88 L109.72 468.81 L109.76 468.63 L109.82 468.33 L109.91 467.9 L110.04 467.33 L110.21 466.61 L110.42 465.76 L110.67 464.78 L110.98 463.69 L111.34 462.5 L111.75 461.24 L112.23 459.92 L112.77 458.55 L113.37 457.16 L114.04 455.75 L114.78 454.33 L115.59 452.92 L116.48 451.52 L117.45 450.13 L118.5 448.75 L119.63 447.41 L120.85 446.08 L122.15 444.78 L123.55 443.51 L125.03 442.26 L126.61 441.04 L128.29 439.85 L130.07 438.68 L131.95 437.54 L133.92 436.43 L136.01 435.34 L138.2 434.27 L140.5 433.23 L142.91 432.22 L145.44 431.22 L148.07 430.25 L150.83 429.3 L153.7 428.37 L156.7 427.46 L159.81 426.57 L163.05 425.69 L166.42 424.84 L169.91 424 L173.54 423.17 L177.29 422.37 L181.18 421.58 L185.2 420.8" stroke="#03705A" stroke-width="5" fill="none"/>
<path d="M109.7 468.9 L109.7 468.89 L109.7 468.84 L109.71 468.73 L109.71 468.55 L109.72 468.28 L109.74 467.91 L109.76 467.43 L109.78 466.84 L109.81 466.14 L109.85 465.32 L109.89 464.39 L109.94 463.35 L109.99 462.21 L110.05 460.97 L110.12 459.65 L110.2 458.24 L110.29 456.77 L110.38 455.23 L110.48 453.64 L110.59 452.01 L110.71 450.34 L110.84 448.64 L110.98 446.93 L111.13 445.2 L111.3 443.46 L111.47 441.71 L111.65 439.97 L111.84 438.23 L112.05 436.5 L112.26 434.78 L112.49 433.07 L112.73 431.38 L112.98 429.71 L113.25 428.05 L113.53 426.41 L113.82 424.79 L114.12 423.19 L114.44 421.61 L114.77 420.05 L115.12 418.52 L115.47 417 L115.85 415.51 L116.24 414.04 L116.64 412.59 L117.06 411.16 L117.49 409.75 L117.94 408.37 L118.4 407" stroke="#03705A" stroke-width="5" fill="none"/>
</g>
<rect x="94.5" y="58.5" width="850" height="424.7" fill="none" stroke="#4d4d4d" stroke-width="1.1"/>
<line x1="105.5" y1="483.2" x2="105.5" y2="493.9" stroke="#4d4d4d" stroke-width="1.1"/>
<line x1="264.55" y1="483.2" x2="264.55" y2="493.9" stroke="#4d4d4d" stroke-width="1.1"/>
<line x1="423.6" y1="483.2" x2="423.6" y2="493.9" stroke="#4d4d4d" stroke-width="1.1"/>
<line x1="582.65" y1="483.2" x2="582.65" y2="493.9" stroke="#4d4d4d" stroke-width="1.1"/>
<line x1="741.7" y1="483.2" x2="741.7" y2="493.9" stroke="#4d4d4d" stroke-width="1.1"/>
<line x1="900.75" y1="483.2" x2="900.75" y2="493.9" stroke="#4d4d4d" stroke-width="1.1"/>
<line x1="84.3" y1="468.6" x2="94.5" y2="468.6" stroke="#4d4d4d" stroke-width="1.1"/>
<line x1="84.3" y1="372.5" x2="94.5" y2="372.5" stroke="#4d4d4d" stroke-width="1.1"/>
<line x1="84.3" y1="276.4" x2="94.5" y2="276.4" stroke="#4d4d4d" stroke-width="1.1"/>
<line x1="84.3" y1="180.3" x2="94.5" y2="180.3" stroke="#4d4d4d" stroke-width="1.1"/>
<line x1="84.3" y1="84.2" x2="94.5" y2="84.2" stroke="#4d4d4d" stroke-width="1.1"/>
<text x="34.3" y="377.3" font-size="16.7" textLength="41.3" lengthAdjust="spacingAndGlyphs" stroke="#000" stroke-width="0.8">1 x10</text>
<text x="76.2" y="370.3" font-size="16.7" stroke="#000" stroke-width="0.8">4</text>
<text x="34.3" y="281.2" font-size="16.7" textLength="41.3" lengthAdjust="spacingAndGlyphs" stroke="#000" stroke-width="0.8">2 x10</text>
<text x="76.2" y="274.2" font-size="16.7" stroke="#000" stroke-width="0.8">4</text>
<text x="34.3" y="185.1" font-size="16.7" textLength="41.3" lengthAdjust="spacingAndGlyphs" stroke="#000" stroke-width="0.8">3 x10</text>
<text x="76.2" y="178.1" font-size="16.7" stroke="#000" stroke-width="0.8">4</text>
<text x="34.3" y="89" font-size="16.7" textLength="41.3" lengthAdjust="spacingAndGlyphs" stroke="#000" stroke-width="0.8">4 x10</text>
<text x="76.2" y="82" font-size="16.7" stroke="#000" stroke-width="0.8">4</text>
<text x="80.3" y="468.6" font-size="16.7" text-anchor="middle" transform="rotate(-90 80.3 468.6)" stroke="#000" stroke-width="0.8">0</text>
<text x="106.3" y="513.5" font-size="21.2" text-anchor="middle" stroke="#000" stroke-width="0.85">0</text>
<text x="231.35" y="513.5" font-size="21.2" textLength="58.4" lengthAdjust="spacingAndGlyphs" stroke="#000" stroke-width="0.85">1 x 10</text>
<text x="290.75" y="507.6" font-size="21.2" stroke="#000" stroke-width="0.85">6</text>
<text x="390.4" y="513.5" font-size="21.2" textLength="58.4" lengthAdjust="spacingAndGlyphs" stroke="#000" stroke-width="0.85">2 x 10</text>
<text x="449.8" y="507.6" font-size="21.2" stroke="#000" stroke-width="0.85">6</text>
<text x="549.45" y="513.5" font-size="21.2" textLength="58.4" lengthAdjust="spacingAndGlyphs" stroke="#000" stroke-width="0.85">3 x 10</text>
<text x="608.85" y="507.6" font-size="21.2" stroke="#000" stroke-width="0.85">6</text>
<text x="708.5" y="513.5" font-size="21.2" textLength="58.4" lengthAdjust="spacingAndGlyphs" stroke="#000" stroke-width="0.85">4 x 10</text>
<text x="767.9" y="507.6" font-size="21.2" stroke="#000" stroke-width="0.85">6</text>
<text x="857.35" y="513.5" font-size="21.2" textLength="58.4" lengthAdjust="spacingAndGlyphs" stroke="#000" stroke-width="0.85">5 x 10</text>
<text x="916.75" y="507.6" font-size="21.2" stroke="#000" stroke-width="0.85">6</text>
<text x="445.4" y="554.4" font-size="24.3" textLength="132.6" lengthAdjust="spacingAndGlyphs" stroke="#000" stroke-width="1">Read depth</text>
<text x="18.6" y="370" font-size="24.3" transform="rotate(-90 18.6 370)" textLength="205" lengthAdjust="spacingAndGlyphs" stroke="#000" stroke-width="1">Gene calls (ORFs)</text>
<line x1="685" y1="362.1" x2="726" y2="362.1" stroke="#8E919E" stroke-width="5.4" stroke-linecap="round"/>
<text x="741" y="371.5" font-size="24" textLength="152.3" lengthAdjust="spacingAndGlyphs" stroke="#000" stroke-width="0.85">Månes/Tosken</text>
<line x1="685" y1="388.9" x2="726" y2="388.9" stroke="#C55A5B" stroke-width="5.4" stroke-linecap="round"/>
<text x="741" y="395.7" font-size="24" textLength="41.5" lengthAdjust="spacingAndGlyphs" stroke="#000" stroke-width="0.85">Alta</text>
<line x1="685" y1="414.4" x2="726" y2="414.4" stroke="#09A28A" stroke-width="5.4" stroke-linecap="round"/>
<text x="741" y="420.2" font-size="24" textLength="107.3" lengthAdjust="spacingAndGlyphs" stroke="#000" stroke-width="0.85">Bugøynes</text>
<line x1="685" y1="440" x2="726" y2="440" stroke="#FFA24C" stroke-width="5.4" stroke-linecap="round"/>
<text x="741" y="444.3" font-size="24" textLength="81.9" lengthAdjust="spacingAndGlyphs" stroke="#000" stroke-width="0.85">Andøya</text>
<line x1="685" y1="466.5" x2="726" y2="466.5" stroke="#03705A" stroke-width="5.4" stroke-linecap="round"/>
<text x="741" y="469.3" font-size="24" textLength="105.8" lengthAdjust="spacingAndGlyphs" stroke="#000" stroke-width="0.85">Nordkapp</text>
<text transform="translate(20.9 37.7) scale(0.75 1)" font-size="53.5" font-weight="bold" stroke="#000" stroke-width="2.2" style="stroke-linejoin:miter">a</text>
</g>
<g id="panel-b">
<path d="M1128.3 140.53H1803.5 M1128.3 110.93H1803.5 M1128.3 84.77H1803.5 M1128.3 155.34H1803.5" stroke="#f2f2f2" stroke-width="0.7" fill="none"/>
<path d="M1128.3 125.73H1803.5 M1128.3 96.13H1803.5 M1128.3 73.41H1803.5 M1133.35 62.5V203.5 M1141.47 62.5V203.5 M1149.6 62.5V203.5 M1157.72 62.5V203.5 M1165.85 62.5V203.5 M1173.97 62.5V203.5 M1182.09 62.5V203.5 M1190.22 62.5V203.5 M1198.34 62.5V203.5 M1206.47 62.5V203.5 M1214.59 62.5V203.5 M1222.71 62.5V203.5 M1230.84 62.5V203.5 M1238.96 62.5V203.5 M1247.09 62.5V203.5 M1255.21 62.5V203.5 M1263.33 62.5V203.5 M1271.46 62.5V203.5 M1279.58 62.5V203.5 M1287.71 62.5V203.5 M1295.83 62.5V203.5 M1303.95 62.5V203.5 M1312.08 62.5V203.5 M1320.2 62.5V203.5 M1328.33 62.5V203.5 M1336.45 62.5V203.5 M1344.57 62.5V203.5 M1352.7 62.5V203.5 M1360.82 62.5V203.5 M1368.95 62.5V203.5 M1377.07 62.5V203.5 M1385.19 62.5V203.5 M1393.32 62.5V203.5 M1401.44 62.5V203.5 M1409.57 62.5V203.5 M1417.69 62.5V203.5 M1425.81 62.5V203.5 M1433.94 62.5V203.5 M1442.06 62.5V203.5 M1450.19 62.5V203.5 M1458.31 62.5V203.5 M1466.43 62.5V203.5 M1474.56 62.5V203.5 M1482.68 62.5V203.5 M1490.81 62.5V203.5 M1498.93 62.5V203.5 M1507.05 62.5V203.5 M1515.18 62.5V203.5 M1523.3 62.5V203.5 M1531.43 62.5V203.5 M1539.55 62.5V203.5 M1547.67 62.5V203.5 M1555.8 62.5V203.5 M1563.92 62.5V203.5 M1572.05 62.5V203.5 M1580.17 62.5V203.5 M1588.29 62.5V203.5 M1596.42 62.5V203.5 M1604.54 62.5V203.5 M1612.67 62.5V203.5 M1620.79 62.5V203.5 M1628.91 62.5V203.5 M1637.04 62.5V203.5 M1645.16 62.5V203.5 M1653.29 62.5V203.5 M1661.41 62.5V203.5 M1669.53 62.5V203.5 M1677.66 62.5V203.5 M1685.78 62.5V203.5 M1693.91 62.5V203.5 M1702.03 62.5V203.5 M1710.15 62.5V203.5 M1718.28 62.5V203.5 M1726.4 62.5V203.5 M1734.53 62.5V203.5 M1742.65 62.5V203.5 M1750.77 62.5V203.5 M1758.9 62.5V203.5 M1767.02 62.5V203.5 M1775.15 62.5V203.5 M1783.27 62.5V203.5 M1791.39 62.5V203.5 M1799.52 62.5V203.5" stroke="#ebebeb" stroke-width="1.1" fill="none"/>
<path d="M1129.69 197.2h7.31v-127.84h-7.31z M1137.82 197.2h7.31v-113h-7.31z M1145.94 197.2h7.31v-101.07h-7.31z M1154.07 197.2h7.31v-95.88h-7.31z M1162.19 197.2h7.31v-95.88h-7.31z M1170.31 197.2h7.31v-78.29h-7.31z M1178.44 197.2h7.31v-74.96h-7.31z M1186.56 197.2h7.31v-71.47h-7.31z M1194.69 197.2h7.31v-67.8h-7.31z M1202.81 197.2h7.31v-67.8h-7.31z M1210.93 197.2h7.31v-59.79h-7.31z M1219.06 197.2h7.31v-59.79h-7.31z M1227.18 197.2h7.31v-55.36h-7.31z M1235.31 197.2h7.31v-55.36h-7.31z M1243.43 197.2h7.31v-55.36h-7.31z M1251.55 197.2h7.31v-50.54h-7.31z M1259.68 197.2h7.31v-50.54h-7.31z M1267.8 197.2h7.31v-45.2h-7.31z M1275.93 197.2h7.31v-45.2h-7.31z M1284.05 197.2h7.31v-45.2h-7.31z M1292.17 197.2h7.31v-45.2h-7.31z M1300.3 197.2h7.31v-45.2h-7.31z M1308.42 197.2h7.31v-45.2h-7.31z M1316.55 197.2h7.31v-45.2h-7.31z M1324.67 197.2h7.31v-39.14h-7.31z M1332.79 197.2h7.31v-39.14h-7.31z M1340.92 197.2h7.31v-39.14h-7.31z M1349.04 197.2h7.31v-39.14h-7.31z M1357.17 197.2h7.31v-39.14h-7.31z M1365.29 197.2h7.31v-39.14h-7.31z M1373.41 197.2h7.31v-31.96h-7.31z M1381.54 197.2h7.31v-31.96h-7.31z M1389.66 197.2h7.31v-31.96h-7.31z M1397.79 197.2h7.31v-31.96h-7.31z M1405.91 197.2h7.31v-31.96h-7.31z M1414.03 197.2h7.31v-31.96h-7.31z M1422.16 197.2h7.31v-31.96h-7.31z M1430.28 197.2h7.31v-31.96h-7.31z M1438.41 197.2h7.31v-31.96h-7.31z M1446.53 197.2h7.31v-31.96h-7.31z M1454.65 197.2h7.31v-31.96h-7.31z M1462.78 197.2h7.31v-31.96h-7.31z M1470.9 197.2h7.31v-31.96h-7.31z M1479.03 197.2h7.31v-22.6h-7.31z M1487.15 197.2h7.31v-22.6h-7.31z M1495.27 197.2h7.31v-22.6h-7.31z M1503.4 197.2h7.31v-22.6h-7.31z M1511.52 197.2h7.31v-22.6h-7.31z M1519.65 197.2h7.31v-22.6h-7.31z M1527.77 197.2h7.31v-22.6h-7.31z M1535.89 197.2h7.31v-22.6h-7.31z M1544.02 197.2h7.31v-22.6h-7.31z M1552.14 197.2h7.31v-22.6h-7.31z M1560.27 197.2h7.31v-22.6h-7.31z M1568.39 197.2h7.31v-22.6h-7.31z M1576.51 197.2h7.31v-22.6h-7.31z M1584.64 197.2h7.31v-22.6h-7.31z M1592.76 197.2h7.31v-22.6h-7.31z M1600.89 197.2h7.31v-22.6h-7.31z M1609.01 197.2h7.31v-22.6h-7.31z M1617.13 197.2h7.31v-22.6h-7.31z" stroke="none" stroke-width="1" fill="#8B8E9B"/>
<rect x="1128.3" y="62.5" width="675.2" height="141" fill="none" stroke="#2a2a2a" stroke-width="1.2"/>
<path d="M1133.35 203.5v2.4 M1141.47 203.5v2.4 M1149.6 203.5v2.4 M1157.72 203.5v2.4 M1165.85 203.5v2.4 M1173.97 203.5v2.4 M1182.09 203.5v2.4 M1190.22 203.5v2.4 M1198.34 203.5v2.4 M1206.47 203.5v2.4 M1214.59 203.5v2.4 M1222.71 203.5v2.4 M1230.84 203.5v2.4 M1238.96 203.5v2.4 M1247.09 203.5v2.4 M1255.21 203.5v2.4 M1263.33 203.5v2.4 M1271.46 203.5v2.4 M1279.58 203.5v2.4 M1287.71 203.5v2.4 M1295.83 203.5v2.4 M1303.95 203.5v2.4 M1312.08 203.5v2.4 M1320.2 203.5v2.4 M1328.33 203.5v2.4 M1336.45 203.5v2.4 M1344.57 203.5v2.4 M1352.7 203.5v2.4 M1360.82 203.5v2.4 M1368.95 203.5v2.4 M1377.07 203.5v2.4 M1385.19 203.5v2.4 M1393.32 203.5v2.4 M1401.44 203.5v2.4 M1409.57 203.5v2.4 M1417.69 203.5v2.4 M1425.81 203.5v2.4 M1433.94 203.5v2.4 M1442.06 203.5v2.4 M1450.19 203.5v2.4 M1458.31 203.5v2.4 M1466.43 203.5v2.4 M1474.56 203.5v2.4 M1482.68 203.5v2.4 M1490.81 203.5v2.4 M1498.93 203.5v2.4 M1507.05 203.5v2.4 M1515.18 203.5v2.4 M1523.3 203.5v2.4 M1531.43 203.5v2.4 M1539.55 203.5v2.4 M1547.67 203.5v2.4 M1555.8 203.5v2.4 M1563.92 203.5v2.4 M1572.05 203.5v2.4 M1580.17 203.5v2.4 M1588.29 203.5v2.4 M1596.42 203.5v2.4 M1604.54 203.5v2.4 M1612.67 203.5v2.4 M1620.79 203.5v2.4 M1628.91 203.5v2.4 M1637.04 203.5v2.4 M1645.16 203.5v2.4 M1653.29 203.5v2.4 M1661.41 203.5v2.4 M1669.53 203.5v2.4 M1677.66 203.5v2.4 M1685.78 203.5v2.4 M1693.91 203.5v2.4 M1702.03 203.5v2.4 M1710.15 203.5v2.4 M1718.28 203.5v2.4 M1726.4 203.5v2.4 M1734.53 203.5v2.4 M1742.65 203.5v2.4 M1750.77 203.5v2.4 M1758.9 203.5v2.4 M1767.02 203.5v2.4 M1775.15 203.5v2.4 M1783.27 203.5v2.4 M1791.39 203.5v2.4 M1799.52 203.5v2.4" stroke="#333333" stroke-width="1" fill="none"/>
<line x1="1126.5" y1="125.73" x2="1128.3" y2="125.73" stroke="#333333" stroke-width="1"/>
<text x="1125.3" y="135.73" font-size="21.4" text-anchor="end" fill="#4d4d4d" stroke="#4d4d4d" stroke-width="0.25">10</text>
<line x1="1126.5" y1="96.13" x2="1128.3" y2="96.13" stroke="#333333" stroke-width="1"/>
<text x="1125.3" y="106.13" font-size="21.4" text-anchor="end" fill="#4d4d4d" stroke="#4d4d4d" stroke-width="0.25">20</text>
<line x1="1126.5" y1="73.41" x2="1128.3" y2="73.41" stroke="#333333" stroke-width="1"/>
<text x="1125.3" y="83.41" font-size="21.4" text-anchor="end" fill="#4d4d4d" stroke="#4d4d4d" stroke-width="0.25">30</text>
<text x="1088.2" y="144.3" font-size="25.3" text-anchor="middle" transform="rotate(-90 1088.2 144.3)" textLength="86.2" lengthAdjust="spacingAndGlyphs" stroke="#000" stroke-width="0.9">Protista</text>
<path d="M1128.3 305.24H1803.6 M1128.3 276.53H1803.6 M1128.3 251.15H1803.6 M1128.3 229.12H1803.6 M1128.3 319.59H1803.6" stroke="#f2f2f2" stroke-width="0.7" fill="none"/>
<path d="M1128.3 290.88H1803.6 M1128.3 262.17H1803.6 M1128.3 240.14H1803.6 M1133.99 224.8V367 M1143.48 224.8V367 M1152.96 224.8V367 M1162.44 224.8V367 M1171.93 224.8V367 M1181.41 224.8V367 M1190.9 224.8V367 M1200.38 224.8V367 M1209.87 224.8V367 M1219.35 224.8V367 M1228.84 224.8V367 M1238.32 224.8V367 M1247.81 224.8V367 M1257.29 224.8V367 M1266.77 224.8V367 M1276.26 224.8V367 M1285.74 224.8V367 M1295.23 224.8V367 M1304.71 224.8V367 M1314.2 224.8V367 M1323.68 224.8V367 M1333.17 224.8V367 M1342.65 224.8V367 M1352.14 224.8V367 M1361.62 224.8V367 M1371.1 224.8V367 M1380.59 224.8V367 M1390.07 224.8V367 M1399.56 224.8V367 M1409.04 224.8V367 M1418.53 224.8V367 M1428.01 224.8V367 M1437.5 224.8V367 M1446.98 224.8V367 M1456.47 224.8V367 M1465.95 224.8V367 M1475.43 224.8V367 M1484.92 224.8V367 M1494.4 224.8V367 M1503.89 224.8V367 M1513.37 224.8V367 M1522.86 224.8V367 M1532.34 224.8V367 M1541.83 224.8V367 M1551.31 224.8V367 M1560.8 224.8V367 M1570.28 224.8V367 M1579.76 224.8V367 M1589.25 224.8V367 M1598.73 224.8V367 M1608.22 224.8V367 M1617.7 224.8V367 M1627.19 224.8V367 M1636.67 224.8V367 M1646.16 224.8V367 M1655.64 224.8V367 M1665.13 224.8V367 M1674.61 224.8V367 M1684.09 224.8V367 M1693.58 224.8V367 M1703.06 224.8V367 M1712.55 224.8V367 M1722.03 224.8V367 M1731.52 224.8V367 M1741 224.8V367 M1750.49 224.8V367 M1759.97 224.8V367 M1769.46 224.8V367 M1778.94 224.8V367 M1788.42 224.8V367 M1797.91 224.8V367" stroke="#ebebeb" stroke-width="1.1" fill="none"/>
<path d="M1129.72 360.2h8.54v-128.75h-8.54z M1139.21 360.2h8.54v-121.06h-8.54z M1148.69 360.2h8.54v-108.5h-8.54z M1158.18 360.2h8.54v-99.25h-8.54z M1167.66 360.2h8.54v-99.25h-8.54z M1177.15 360.2h8.54v-98.03h-8.54z M1186.63 360.2h8.54v-96.8h-8.54z M1196.11 360.2h8.54v-94.28h-8.54z M1205.6 360.2h8.54v-93h-8.54z M1215.08 360.2h8.54v-91.7h-8.54z M1224.57 360.2h8.54v-90.38h-8.54z M1234.05 360.2h8.54v-89.04h-8.54z M1243.54 360.2h8.54v-89.04h-8.54z M1253.02 360.2h8.54v-87.68h-8.54z M1262.51 360.2h8.54v-87.68h-8.54z M1271.99 360.2h8.54v-86.3h-8.54z M1281.48 360.2h8.54v-84.9h-8.54z M1290.96 360.2h8.54v-84.9h-8.54z M1300.44 360.2h8.54v-84.9h-8.54z M1309.93 360.2h8.54v-84.9h-8.54z M1319.41 360.2h8.54v-84.9h-8.54z M1328.9 360.2h8.54v-83.47h-8.54z M1338.38 360.2h8.54v-83.47h-8.54z M1347.87 360.2h8.54v-82.02h-8.54z M1357.35 360.2h8.54v-82.02h-8.54z M1366.84 360.2h8.54v-80.54h-8.54z M1376.32 360.2h8.54v-80.54h-8.54z M1385.81 360.2h8.54v-80.54h-8.54z M1395.29 360.2h8.54v-80.54h-8.54z M1404.77 360.2h8.54v-80.54h-8.54z M1414.26 360.2h8.54v-80.54h-8.54z M1423.74 360.2h8.54v-79.03h-8.54z M1433.23 360.2h8.54v-79.03h-8.54z M1442.71 360.2h8.54v-79.03h-8.54z M1452.2 360.2h8.54v-77.5h-8.54z M1461.68 360.2h8.54v-77.5h-8.54z M1471.17 360.2h8.54v-75.93h-8.54z M1480.65 360.2h8.54v-75.93h-8.54z M1490.14 360.2h8.54v-75.93h-8.54z M1499.62 360.2h8.54v-74.34h-8.54z M1509.1 360.2h8.54v-74.34h-8.54z M1518.59 360.2h8.54v-74.34h-8.54z M1528.07 360.2h8.54v-74.34h-8.54z M1537.56 360.2h8.54v-74.34h-8.54z M1547.04 360.2h8.54v-74.34h-8.54z M1556.53 360.2h8.54v-74.34h-8.54z M1566.01 360.2h8.54v-74.34h-8.54z M1575.5 360.2h8.54v-72.7h-8.54z M1584.98 360.2h8.54v-72.7h-8.54z M1594.47 360.2h8.54v-72.7h-8.54z M1603.95 360.2h8.54v-72.7h-8.54z M1613.43 360.2h8.54v-71.03h-8.54z M1622.92 360.2h8.54v-71.03h-8.54z M1632.4 360.2h8.54v-71.03h-8.54z M1641.89 360.2h8.54v-71.03h-8.54z M1651.37 360.2h8.54v-71.03h-8.54z M1660.86 360.2h8.54v-71.03h-8.54z M1670.34 360.2h8.54v-69.32h-8.54z M1679.83 360.2h8.54v-69.32h-8.54z M1689.31 360.2h8.54v-69.32h-8.54z M1698.8 360.2h8.54v-69.32h-8.54z M1708.28 360.2h8.54v-65.76h-8.54z M1717.76 360.2h8.54v-62h-8.54z M1727.25 360.2h8.54v-62h-8.54z M1736.73 360.2h8.54v-60.03h-8.54z M1746.22 360.2h8.54v-60.03h-8.54z M1755.7 360.2h8.54v-58h-8.54z M1765.19 360.2h8.54v-58h-8.54z M1774.67 360.2h8.54v-58h-8.54z M1784.16 360.2h8.54v-55.89h-8.54z M1793.64 360.2h8.54v-53.69h-8.54z" stroke="none" stroke-width="1" fill="#00A087"/>
<rect x="1128.3" y="224.8" width="675.3" height="142.2" fill="none" stroke="#666666" stroke-width="1.2"/>
<path d="M1133.99 367v2.4 M1143.48 367v2.4 M1152.96 367v2.4 M1162.44 367v2.4 M1171.93 367v2.4 M1181.41 367v2.4 M1190.9 367v2.4 M1200.38 367v2.4 M1209.87 367v2.4 M1219.35 367v2.4 M1228.84 367v2.4 M1238.32 367v2.4 M1247.81 367v2.4 M1257.29 367v2.4 M1266.77 367v2.4 M1276.26 367v2.4 M1285.74 367v2.4 M1295.23 367v2.4 M1304.71 367v2.4 M1314.2 367v2.4 M1323.68 367v2.4 M1333.17 367v2.4 M1342.65 367v2.4 M1352.14 367v2.4 M1361.62 367v2.4 M1371.1 367v2.4 M1380.59 367v2.4 M1390.07 367v2.4 M1399.56 367v2.4 M1409.04 367v2.4 M1418.53 367v2.4 M1428.01 367v2.4 M1437.5 367v2.4 M1446.98 367v2.4 M1456.47 367v2.4 M1465.95 367v2.4 M1475.43 367v2.4 M1484.92 367v2.4 M1494.4 367v2.4 M1503.89 367v2.4 M1513.37 367v2.4 M1522.86 367v2.4 M1532.34 367v2.4 M1541.83 367v2.4 M1551.31 367v2.4 M1560.8 367v2.4 M1570.28 367v2.4 M1579.76 367v2.4 M1589.25 367v2.4 M1598.73 367v2.4 M1608.22 367v2.4 M1617.7 367v2.4 M1627.19 367v2.4 M1636.67 367v2.4 M1646.16 367v2.4 M1655.64 367v2.4 M1665.13 367v2.4 M1674.61 367v2.4 M1684.09 367v2.4 M1693.58 367v2.4 M1703.06 367v2.4 M1712.55 367v2.4 M1722.03 367v2.4 M1731.52 367v2.4 M1741 367v2.4 M1750.49 367v2.4 M1759.97 367v2.4 M1769.46 367v2.4 M1778.94 367v2.4 M1788.42 367v2.4 M1797.91 367v2.4" stroke="#333333" stroke-width="1" fill="none"/>
<line x1="1126.5" y1="290.88" x2="1128.3" y2="290.88" stroke="#333333" stroke-width="1"/>
<text x="1123.2" y="300.88" font-size="21.4" text-anchor="end" fill="#4d4d4d" stroke="#4d4d4d" stroke-width="0.25">20</text>
<line x1="1126.5" y1="262.17" x2="1128.3" y2="262.17" stroke="#333333" stroke-width="1"/>
<text x="1123.2" y="272.17" font-size="21.4" text-anchor="end" fill="#4d4d4d" stroke="#4d4d4d" stroke-width="0.25">40</text>
<line x1="1126.5" y1="240.14" x2="1128.3" y2="240.14" stroke="#333333" stroke-width="1"/>
<text x="1123.2" y="250.14" font-size="21.4" text-anchor="end" fill="#4d4d4d" stroke="#4d4d4d" stroke-width="0.25">60</text>
<text x="1088.2" y="307.3" font-size="25.3" text-anchor="middle" transform="rotate(-90 1088.2 307.3)" textLength="91.2" lengthAdjust="spacingAndGlyphs" stroke="#000" stroke-width="0.9">Bacteria</text>
<path d="M1128.3 467.53H1804.5 M1128.3 440.8H1804.5 M1128.3 417.18H1804.5 M1128.3 398.28H1804.5 M1128.3 480.9H1804.5" stroke="#f2f2f2" stroke-width="0.7" fill="none"/>
<path d="M1128.3 454.17H1804.5 M1128.3 427.44H1804.5 M1128.3 406.93H1804.5 M1128.3 389.63H1804.5 M1133.62 383.9V525.3 M1142.5 383.9V525.3 M1151.37 383.9V525.3 M1160.25 383.9V525.3 M1169.12 383.9V525.3 M1177.99 383.9V525.3 M1186.87 383.9V525.3 M1195.74 383.9V525.3 M1204.62 383.9V525.3 M1213.49 383.9V525.3 M1222.36 383.9V525.3 M1231.24 383.9V525.3 M1240.11 383.9V525.3 M1248.99 383.9V525.3 M1257.86 383.9V525.3 M1266.73 383.9V525.3 M1275.61 383.9V525.3 M1284.48 383.9V525.3 M1293.36 383.9V525.3 M1302.23 383.9V525.3 M1311.1 383.9V525.3 M1319.98 383.9V525.3 M1328.85 383.9V525.3 M1337.73 383.9V525.3 M1346.6 383.9V525.3 M1355.47 383.9V525.3 M1364.35 383.9V525.3 M1373.22 383.9V525.3 M1382.1 383.9V525.3 M1390.97 383.9V525.3 M1399.84 383.9V525.3 M1408.72 383.9V525.3 M1417.59 383.9V525.3 M1426.47 383.9V525.3 M1435.34 383.9V525.3 M1444.21 383.9V525.3 M1453.09 383.9V525.3 M1461.96 383.9V525.3 M1470.84 383.9V525.3 M1479.71 383.9V525.3 M1488.59 383.9V525.3 M1497.46 383.9V525.3 M1506.33 383.9V525.3 M1515.21 383.9V525.3 M1524.08 383.9V525.3 M1532.96 383.9V525.3 M1541.83 383.9V525.3 M1550.7 383.9V525.3 M1559.58 383.9V525.3 M1568.45 383.9V525.3 M1577.33 383.9V525.3 M1586.2 383.9V525.3 M1595.07 383.9V525.3 M1603.95 383.9V525.3 M1612.82 383.9V525.3 M1621.7 383.9V525.3 M1630.57 383.9V525.3 M1639.44 383.9V525.3 M1648.32 383.9V525.3 M1657.19 383.9V525.3 M1666.07 383.9V525.3 M1674.94 383.9V525.3 M1683.81 383.9V525.3 M1692.69 383.9V525.3 M1701.56 383.9V525.3 M1710.44 383.9V525.3 M1719.31 383.9V525.3 M1728.18 383.9V525.3 M1737.06 383.9V525.3 M1745.93 383.9V525.3 M1754.81 383.9V525.3 M1763.68 383.9V525.3 M1772.55 383.9V525.3 M1781.43 383.9V525.3 M1790.3 383.9V525.3 M1799.18 383.9V525.3" stroke="#ebebeb" stroke-width="1.1" fill="none"/>
<path d="M1129.63 518.7h7.99v-128.26h-7.99z M1138.51 518.7h7.99v-119.86h-7.99z M1147.38 518.7h7.99v-107.98h-7.99z M1156.25 518.7h7.99v-101.01h-7.99z M1165.13 518.7h7.99v-93.52h-7.99z M1174 518.7h7.99v-92.4h-7.99z M1182.88 518.7h7.99v-92.4h-7.99z M1191.75 518.7h7.99v-91.26h-7.99z M1200.62 518.7h7.99v-91.26h-7.99z M1209.5 518.7h7.99v-84.14h-7.99z M1218.37 518.7h7.99v-82.89h-7.99z M1227.25 518.7h7.99v-82.89h-7.99z M1236.12 518.7h7.99v-82.89h-7.99z M1244.99 518.7h7.99v-81.63h-7.99z M1253.87 518.7h7.99v-80.34h-7.99z M1262.74 518.7h7.99v-79.04h-7.99z M1271.62 518.7h7.99v-79.04h-7.99z M1280.49 518.7h7.99v-77.71h-7.99z M1289.36 518.7h7.99v-76.36h-7.99z M1298.24 518.7h7.99v-74.98h-7.99z M1307.11 518.7h7.99v-74.98h-7.99z M1315.99 518.7h7.99v-74.98h-7.99z M1324.86 518.7h7.99v-74.98h-7.99z M1333.73 518.7h7.99v-73.58h-7.99z M1342.61 518.7h7.99v-72.15h-7.99z M1351.48 518.7h7.99v-70.69h-7.99z M1360.36 518.7h7.99v-69.2h-7.99z M1369.23 518.7h7.99v-69.2h-7.99z M1378.1 518.7h7.99v-69.2h-7.99z M1386.98 518.7h7.99v-69.2h-7.99z M1395.85 518.7h7.99v-67.68h-7.99z M1404.73 518.7h7.99v-67.68h-7.99z M1413.6 518.7h7.99v-66.13h-7.99z M1422.47 518.7h7.99v-66.13h-7.99z M1431.35 518.7h7.99v-64.53h-7.99z M1440.22 518.7h7.99v-61.22h-7.99z M1449.1 518.7h7.99v-59.5h-7.99z M1457.97 518.7h7.99v-57.72h-7.99z M1466.84 518.7h7.99v-55.89h-7.99z M1475.72 518.7h7.99v-55.89h-7.99z M1484.59 518.7h7.99v-53.99h-7.99z M1493.47 518.7h7.99v-49.99h-7.99z M1502.34 518.7h7.99v-49.99h-7.99z M1511.21 518.7h7.99v-49.99h-7.99z M1520.09 518.7h7.99v-47.86h-7.99z M1528.96 518.7h7.99v-45.63h-7.99z M1537.84 518.7h7.99v-45.63h-7.99z M1546.71 518.7h7.99v-43.29h-7.99z M1555.58 518.7h7.99v-40.81h-7.99z M1564.46 518.7h7.99v-40.81h-7.99z M1573.33 518.7h7.99v-38.18h-7.99z M1582.21 518.7h7.99v-38.18h-7.99z M1591.08 518.7h7.99v-38.18h-7.99z M1599.95 518.7h7.99v-35.35h-7.99z M1608.83 518.7h7.99v-35.35h-7.99z M1617.7 518.7h7.99v-35.35h-7.99z M1626.58 518.7h7.99v-32.27h-7.99z M1635.45 518.7h7.99v-32.27h-7.99z M1644.32 518.7h7.99v-28.86h-7.99z M1653.2 518.7h7.99v-28.86h-7.99z M1662.07 518.7h7.99v-28.86h-7.99z M1670.95 518.7h7.99v-24.99h-7.99z M1679.82 518.7h7.99v-24.99h-7.99z M1688.69 518.7h7.99v-20.41h-7.99z M1697.57 518.7h7.99v-20.41h-7.99z M1706.44 518.7h7.99v-20.41h-7.99z M1715.32 518.7h7.99v-14.43h-7.99z M1724.19 518.7h7.99v-14.43h-7.99z" stroke="none" stroke-width="1" fill="#C65B5B"/>
<rect x="1128.3" y="383.9" width="676.2" height="141.4" fill="none" stroke="#333333" stroke-width="1.2"/>
<path d="M1133.62 525.3v2.4 M1142.5 525.3v2.4 M1151.37 525.3v2.4 M1160.25 525.3v2.4 M1169.12 525.3v2.4 M1177.99 525.3v2.4 M1186.87 525.3v2.4 M1195.74 525.3v2.4 M1204.62 525.3v2.4 M1213.49 525.3v2.4 M1222.36 525.3v2.4 M1231.24 525.3v2.4 M1240.11 525.3v2.4 M1248.99 525.3v2.4 M1257.86 525.3v2.4 M1266.73 525.3v2.4 M1275.61 525.3v2.4 M1284.48 525.3v2.4 M1293.36 525.3v2.4 M1302.23 525.3v2.4 M1311.1 525.3v2.4 M1319.98 525.3v2.4 M1328.85 525.3v2.4 M1337.73 525.3v2.4 M1346.6 525.3v2.4 M1355.47 525.3v2.4 M1364.35 525.3v2.4 M1373.22 525.3v2.4 M1382.1 525.3v2.4 M1390.97 525.3v2.4 M1399.84 525.3v2.4 M1408.72 525.3v2.4 M1417.59 525.3v2.4 M1426.47 525.3v2.4 M1435.34 525.3v2.4 M1444.21 525.3v2.4 M1453.09 525.3v2.4 M1461.96 525.3v2.4 M1470.84 525.3v2.4 M1479.71 525.3v2.4 M1488.59 525.3v2.4 M1497.46 525.3v2.4 M1506.33 525.3v2.4 M1515.21 525.3v2.4 M1524.08 525.3v2.4 M1532.96 525.3v2.4 M1541.83 525.3v2.4 M1550.7 525.3v2.4 M1559.58 525.3v2.4 M1568.45 525.3v2.4 M1577.33 525.3v2.4 M1586.2 525.3v2.4 M1595.07 525.3v2.4 M1603.95 525.3v2.4 M1612.82 525.3v2.4 M1621.7 525.3v2.4 M1630.57 525.3v2.4 M1639.44 525.3v2.4 M1648.32 525.3v2.4 M1657.19 525.3v2.4 M1666.07 525.3v2.4 M1674.94 525.3v2.4 M1683.81 525.3v2.4 M1692.69 525.3v2.4 M1701.56 525.3v2.4 M1710.44 525.3v2.4 M1719.31 525.3v2.4 M1728.18 525.3v2.4 M1737.06 525.3v2.4 M1745.93 525.3v2.4 M1754.81 525.3v2.4 M1763.68 525.3v2.4 M1772.55 525.3v2.4 M1781.43 525.3v2.4 M1790.3 525.3v2.4 M1799.18 525.3v2.4" stroke="#333333" stroke-width="1" fill="none"/>
<line x1="1126.5" y1="454.17" x2="1128.3" y2="454.17" stroke="#333333" stroke-width="1"/>
<text x="1121.3" y="462.97" font-size="21.4" text-anchor="end" fill="#4d4d4d" stroke="#4d4d4d" stroke-width="0.25">20</text>
<line x1="1126.5" y1="427.44" x2="1128.3" y2="427.44" stroke="#333333" stroke-width="1"/>
<text x="1121.3" y="436.24" font-size="21.4" text-anchor="end" fill="#4d4d4d" stroke="#4d4d4d" stroke-width="0.25">40</text>
<line x1="1126.5" y1="406.93" x2="1128.3" y2="406.93" stroke="#333333" stroke-width="1"/>
<text x="1121.3" y="415.73" font-size="21.4" text-anchor="end" fill="#4d4d4d" stroke="#4d4d4d" stroke-width="0.25">60</text>
<line x1="1126.5" y1="389.63" x2="1128.3" y2="389.63" stroke="#333333" stroke-width="1"/>
<text x="1121.3" y="398.43" font-size="21.4" text-anchor="end" fill="#4d4d4d" stroke="#4d4d4d" stroke-width="0.25">80</text>
<text x="1088.2" y="458.3" font-size="25.3" text-anchor="middle" transform="rotate(-90 1088.2 458.3)" textLength="90.4" lengthAdjust="spacingAndGlyphs" stroke="#000" stroke-width="0.9">Archaea</text>
<text x="1053.3" y="292" font-size="25.3" text-anchor="middle" transform="rotate(-90 1053.3 292)" textLength="182" lengthAdjust="spacingAndGlyphs" stroke="#000" stroke-width="0.9">Counts of SCGs</text>
<text x="1455.5" y="565" font-size="24.5" text-anchor="middle" fill="#1c0808" textLength="368" lengthAdjust="spacingAndGlyphs" stroke="#1c0808" stroke-width="0.9">Single-copy Core Genes (SCGs)</text>
<path d="M1885.5 197.4H1961.7 M1885.5 157.2H1961.7 M1885.5 117H1961.7 M1885.5 76.8H1961.7 M1923.4 62.3V203.5" stroke="#ebebeb" stroke-width="1.1" fill="none"/>
<path d="M1885.5 177.3H1961.7 M1885.5 137.1H1961.7 M1885.5 96.9H1961.7" stroke="#f2f2f2" stroke-width="0.7" fill="none"/>
<path d="M1923.8 68.76 C1923.82 70.1 1923.87 72.78 1923.9 76.8 C1923.93 80.82 1924 88.19 1924 92.88 C1924 97.57 1923.83 101.59 1923.9 104.94 C1923.97 108.29 1924.17 110.64 1924.4 112.98 C1924.63 115.33 1925.2 117 1925.3 119.01 C1925.4 121.02 1925.23 123.03 1925 125.04 C1924.77 127.05 1924.1 128.39 1923.9 131.07 C1923.7 133.75 1923.72 138.1 1923.8 141.12 C1923.88 144.14 1924.08 146.48 1924.4 149.16 C1924.72 151.84 1925.37 154.52 1925.7 157.2 C1926.03 159.88 1926.03 162.9 1926.4 165.24 C1926.77 167.59 1927.23 169.26 1927.9 171.27 C1928.57 173.28 1929.4 175.62 1930.4 177.3 C1931.4 178.98 1932.48 179.98 1933.9 181.32 C1935.32 182.66 1936.9 184 1938.9 185.34 C1940.9 186.68 1943.9 188.22 1945.9 189.36 C1947.9 190.5 1949.85 191.44 1950.9 192.17 C1951.95 192.91 1952.12 193.25 1952.2 193.78 C1952.28 194.32 1951.95 194.89 1951.4 195.39 C1950.85 195.89 1949.57 196.46 1948.9 196.8 C1948.23 197.13 1947.65 197.3 1947.4 197.4 L1899.4 197.4 C1899.15 197.3 1898.57 197.13 1897.9 196.8 C1897.23 196.46 1895.95 195.89 1895.4 195.39 C1894.85 194.89 1894.52 194.32 1894.6 193.78 C1894.68 193.25 1894.85 192.91 1895.9 192.17 C1896.95 191.44 1898.9 190.5 1900.9 189.36 C1902.9 188.22 1905.9 186.68 1907.9 185.34 C1909.9 184 1911.48 182.66 1912.9 181.32 C1914.32 179.98 1915.4 178.98 1916.4 177.3 C1917.4 175.62 1918.23 173.28 1918.9 171.27 C1919.57 169.26 1920.03 167.59 1920.4 165.24 C1920.77 162.9 1920.77 159.88 1921.1 157.2 C1921.43 154.52 1922.08 151.84 1922.4 149.16 C1922.72 146.48 1922.92 144.14 1923 141.12 C1923.08 138.1 1923.1 133.75 1922.9 131.07 C1922.7 128.39 1922.03 127.05 1921.8 125.04 C1921.57 123.03 1921.4 121.02 1921.5 119.01 C1921.6 117 1922.17 115.33 1922.4 112.98 C1922.63 110.64 1922.83 108.29 1922.9 104.94 C1922.97 101.59 1922.8 97.57 1922.8 92.88 C1922.8 88.19 1922.87 80.82 1922.9 76.8 C1922.93 72.78 1922.98 70.1 1923 68.76 Z" stroke="#111" stroke-width="1.25" fill="#DCDDE2" stroke-linejoin="round"/>
<g fill="#8B8E9B" fill-opacity="0.38"><circle cx="1926.18" cy="68.94" r="2.25"/><circle cx="1931.49" cy="96.93" r="2.25"/><circle cx="1914.96" cy="116.71" r="2.25"/><circle cx="1912.55" cy="125.04" r="2.25"/><circle cx="1920.39" cy="153.15" r="2.25"/><circle cx="1919.18" cy="160.99" r="2.25"/><circle cx="1927.63" cy="169.19" r="2.25"/><circle cx="1935.23" cy="173.05" r="2.25"/><circle cx="1922.8" cy="177.04" r="2.25"/><circle cx="1916.77" cy="181.14" r="2.25"/><circle cx="1922.8" cy="181.14" r="2.25"/><circle cx="1919.78" cy="185.12" r="2.25"/><circle cx="1925.21" cy="185.12" r="2.25"/><circle cx="1930.64" cy="185.12" r="2.25"/><circle cx="1933.66" cy="185.12" r="2.25"/><circle cx="1912.3" cy="189.34" r="2.25"/><circle cx="1919.54" cy="189.34" r="2.25"/><circle cx="1925.82" cy="189.34" r="2.25"/><circle cx="1935.47" cy="189.34" r="2.25"/><circle cx="1911.34" cy="193.32" r="2.25"/><circle cx="1916.16" cy="193.32" r="2.25"/><circle cx="1919.18" cy="193.32" r="2.25"/><circle cx="1926.42" cy="193.32" r="2.25"/><circle cx="1928.83" cy="193.32" r="2.25"/><circle cx="1933.66" cy="193.32" r="2.25"/><circle cx="1912.55" cy="197.42" r="2.25"/><circle cx="1916.16" cy="197.42" r="2.25"/><circle cx="1919.18" cy="197.42" r="2.25"/><circle cx="1925.82" cy="197.42" r="2.25"/><circle cx="1931.85" cy="197.42" r="2.25"/><circle cx="1934.26" cy="197.42" r="2.25"/><circle cx="1917.97" cy="189.34" r="2.25"/><circle cx="1927.63" cy="193.32" r="2.25"/><circle cx="1917.73" cy="193.32" r="2.25"/><circle cx="1921.59" cy="181.14" r="2.25"/><circle cx="1932.09" cy="185.12" r="2.25"/></g>
<rect x="1885.5" y="62.3" width="76.2" height="141.2" fill="none" stroke="#444444" stroke-width="1.2"/>
<text x="1880.5" y="205.3" font-size="22" text-anchor="end" fill="#4d4d4d" stroke="#4d4d4d" stroke-width="0.25">0</text>
<text x="1880.5" y="165.1" font-size="22" text-anchor="end" fill="#4d4d4d" stroke="#4d4d4d" stroke-width="0.25">10</text>
<text x="1880.5" y="124.9" font-size="22" text-anchor="end" fill="#4d4d4d" stroke="#4d4d4d" stroke-width="0.25">20</text>
<text x="1880.5" y="84.7" font-size="22" text-anchor="end" fill="#4d4d4d" stroke="#4d4d4d" stroke-width="0.25">30</text>
<path d="M1885.5 360.6H1961.7 M1885.5 323.2H1961.7 M1885.5 285.8H1961.7 M1885.5 248.4H1961.7 M1923.4 224.4V367" stroke="#ebebeb" stroke-width="1.1" fill="none"/>
<path d="M1885.5 341.9H1961.7 M1885.5 304.5H1961.7 M1885.5 267.1H1961.7" stroke="#f2f2f2" stroke-width="0.7" fill="none"/>
<path d="M1925 231.01 C1924.98 232.35 1924.83 236.77 1924.9 239.05 C1924.97 241.33 1925.45 242.48 1925.4 244.66 C1925.35 246.84 1924.73 249.65 1924.6 252.14 C1924.47 254.63 1924.5 257.13 1924.6 259.62 C1924.7 262.11 1925.13 264.92 1925.2 267.1 C1925.27 269.28 1924.97 271.15 1925 272.71 C1925.03 274.27 1925 274.89 1925.4 276.45 C1925.8 278.01 1926.82 280.5 1927.4 282.06 C1927.98 283.62 1928.4 284.24 1928.9 285.8 C1929.4 287.36 1929.82 289.85 1930.4 291.41 C1930.98 292.97 1931.48 293.9 1932.4 295.15 C1933.32 296.4 1934.48 297.33 1935.9 298.89 C1937.32 300.45 1939.48 302.94 1940.9 304.5 C1942.32 306.06 1943.07 306.99 1944.4 308.24 C1945.73 309.49 1947.68 310.89 1948.9 311.98 C1950.12 313.07 1951.15 314.01 1951.7 314.79 C1952.25 315.56 1952.28 316.03 1952.2 316.66 C1952.12 317.28 1952.08 317.75 1951.2 318.53 C1950.32 319.3 1948.45 320.4 1946.9 321.33 C1945.35 322.27 1943.4 323.2 1941.9 324.13 C1940.4 325.07 1938.9 326 1937.9 326.94 C1936.9 327.88 1936.57 328.81 1935.9 329.75 C1935.23 330.68 1934.57 331.62 1933.9 332.55 C1933.23 333.49 1932.48 334.58 1931.9 335.36 C1931.32 336.13 1930.82 336.76 1930.4 337.23 C1929.98 337.69 1929.57 338 1929.4 338.16 L1917.4 338.16 C1917.23 338 1916.82 337.69 1916.4 337.23 C1915.98 336.76 1915.48 336.13 1914.9 335.36 C1914.32 334.58 1913.57 333.49 1912.9 332.55 C1912.23 331.62 1911.57 330.68 1910.9 329.75 C1910.23 328.81 1909.9 327.88 1908.9 326.94 C1907.9 326 1906.4 325.07 1904.9 324.13 C1903.4 323.2 1901.45 322.27 1899.9 321.33 C1898.35 320.4 1896.48 319.3 1895.6 318.53 C1894.72 317.75 1894.68 317.28 1894.6 316.66 C1894.52 316.03 1894.55 315.56 1895.1 314.79 C1895.65 314.01 1896.68 313.07 1897.9 311.98 C1899.12 310.89 1901.07 309.49 1902.4 308.24 C1903.73 306.99 1904.48 306.06 1905.9 304.5 C1907.32 302.94 1909.48 300.45 1910.9 298.89 C1912.32 297.33 1913.48 296.4 1914.4 295.15 C1915.32 293.9 1915.82 292.97 1916.4 291.41 C1916.98 289.85 1917.4 287.36 1917.9 285.8 C1918.4 284.24 1918.82 283.62 1919.4 282.06 C1919.98 280.5 1921 278.01 1921.4 276.45 C1921.8 274.89 1921.77 274.27 1921.8 272.71 C1921.83 271.15 1921.53 269.28 1921.6 267.1 C1921.67 264.92 1922.1 262.11 1922.2 259.62 C1922.3 257.13 1922.33 254.63 1922.2 252.14 C1922.07 249.65 1921.45 246.84 1921.4 244.66 C1921.35 242.48 1921.83 241.33 1921.9 239.05 C1921.97 236.77 1921.82 232.35 1921.8 231.01 Z" stroke="#111" stroke-width="1.25" fill="#D9E5DA" stroke-linejoin="round"/>
<g fill="#00A087" fill-opacity="0.36"><circle cx="1913.75" cy="231.53" r="2.25"/><circle cx="1933.05" cy="246.61" r="2.25"/><circle cx="1926.18" cy="268.93" r="2.25"/><circle cx="1911.94" cy="283.77" r="2.25"/><circle cx="1916.77" cy="283.77" r="2.25"/><circle cx="1924.61" cy="285.58" r="2.25"/><circle cx="1920.39" cy="287.39" r="2.25"/><circle cx="1931.25" cy="292.21" r="2.25"/><circle cx="1914.96" cy="294.62" r="2.25"/><circle cx="1916.16" cy="297.64" r="2.25"/><circle cx="1921.59" cy="299.45" r="2.25"/><circle cx="1932.09" cy="300.66" r="2.25"/><circle cx="1915.56" cy="302.47" r="2.25"/><circle cx="1910.74" cy="304.52" r="2.25"/><circle cx="1921.59" cy="304.52" r="2.25"/><circle cx="1927.02" cy="304.88" r="2.25"/><circle cx="1931.25" cy="304.88" r="2.25"/><circle cx="1911.94" cy="307.89" r="2.25"/><circle cx="1919.78" cy="307.89" r="2.25"/><circle cx="1930.04" cy="310.31" r="2.25"/><circle cx="1911.34" cy="310.91" r="2.25"/><circle cx="1913.75" cy="310.91" r="2.25"/><circle cx="1930.64" cy="311.51" r="2.25"/><circle cx="1915.56" cy="314.53" r="2.25"/><circle cx="1919.18" cy="314.53" r="2.25"/><circle cx="1925.82" cy="314.53" r="2.25"/><circle cx="1912.55" cy="317.55" r="2.25"/><circle cx="1919.18" cy="317.55" r="2.25"/><circle cx="1923.4" cy="317.55" r="2.25"/><circle cx="1927.02" cy="317.55" r="2.25"/><circle cx="1930.64" cy="318.15" r="2.25"/><circle cx="1933.66" cy="317.55" r="2.25"/><circle cx="1917.37" cy="321.16" r="2.25"/><circle cx="1920.39" cy="321.16" r="2.25"/><circle cx="1924.01" cy="319.96" r="2.25"/><circle cx="1930.04" cy="321.16" r="2.25"/><circle cx="1910.13" cy="322.97" r="2.25"/><circle cx="1913.15" cy="322.97" r="2.25"/><circle cx="1930.64" cy="322.97" r="2.25"/><circle cx="1924.61" cy="327.2" r="2.25"/><circle cx="1931.25" cy="330.82" r="2.25"/><circle cx="1924.01" cy="332.02" r="2.25"/><circle cx="1919.18" cy="334.44" r="2.25"/><circle cx="1914.96" cy="333.83" r="2.25"/><circle cx="1933.66" cy="335.04" r="2.25"/><circle cx="1934.86" cy="338.05" r="2.25"/></g>
<rect x="1885.5" y="224.4" width="76.2" height="142.6" fill="none" stroke="#777777" stroke-width="1.2"/>
<text x="1882.3" y="368.5" font-size="22" text-anchor="end" fill="#4d4d4d" stroke="#4d4d4d" stroke-width="0.25">0</text>
<text x="1882.3" y="331.1" font-size="22" text-anchor="end" fill="#4d4d4d" stroke="#4d4d4d" stroke-width="0.25">20</text>
<text x="1882.3" y="293.7" font-size="22" text-anchor="end" fill="#4d4d4d" stroke="#4d4d4d" stroke-width="0.25">40</text>
<text x="1882.3" y="256.3" font-size="22" text-anchor="end" fill="#4d4d4d" stroke="#4d4d4d" stroke-width="0.25">60</text>
<path d="M1885.5 518.6H1961.7 M1885.5 486.18H1961.7 M1885.5 453.76H1961.7 M1885.5 421.34H1961.7 M1885.5 388.92H1961.7 M1923.4 384V525.4" stroke="#ebebeb" stroke-width="1.1" fill="none"/>
<path d="M1885.5 502.39H1961.7 M1885.5 469.97H1961.7 M1885.5 437.55H1961.7 M1885.5 405.13H1961.7" stroke="#f2f2f2" stroke-width="0.7" fill="none"/>
<path d="M1924.9 390.54 C1924.88 392.43 1924.8 398.11 1924.8 401.89 C1924.8 405.67 1924.8 409.99 1924.9 413.24 C1925 416.48 1925.2 418.91 1925.4 421.34 C1925.6 423.77 1925.8 425.66 1926.1 427.82 C1926.4 429.99 1926.78 432.15 1927.2 434.31 C1927.62 436.47 1927.98 438.63 1928.6 440.79 C1929.22 442.95 1930.05 445.11 1930.9 447.28 C1931.75 449.44 1932.7 451.6 1933.7 453.76 C1934.7 455.92 1935.7 458.08 1936.9 460.24 C1938.1 462.41 1939.73 464.84 1940.9 466.73 C1942.07 468.62 1943.1 469.97 1943.9 471.59 C1944.7 473.21 1945.35 474.83 1945.7 476.45 C1946.05 478.07 1946.08 479.7 1946 481.32 C1945.92 482.94 1945.33 484.56 1945.2 486.18 C1945.07 487.8 1944.92 489.42 1945.2 491.04 C1945.48 492.66 1946.2 494.29 1946.9 495.91 C1947.6 497.53 1948.65 499.15 1949.4 500.77 C1950.15 502.39 1950.93 504.28 1951.4 505.63 C1951.87 506.98 1952.17 507.79 1952.2 508.87 C1952.23 509.95 1952.07 511.04 1951.6 512.12 C1951.13 513.2 1950.13 514.49 1949.4 515.36 C1948.67 516.22 1947.78 516.76 1947.2 517.3 C1946.62 517.84 1946.12 518.38 1945.9 518.6 L1900.9 518.6 C1900.68 518.38 1900.18 517.84 1899.6 517.3 C1899.02 516.76 1898.13 516.22 1897.4 515.36 C1896.67 514.49 1895.67 513.2 1895.2 512.12 C1894.73 511.04 1894.57 509.95 1894.6 508.87 C1894.63 507.79 1894.93 506.98 1895.4 505.63 C1895.87 504.28 1896.65 502.39 1897.4 500.77 C1898.15 499.15 1899.2 497.53 1899.9 495.91 C1900.6 494.29 1901.32 492.66 1901.6 491.04 C1901.88 489.42 1901.73 487.8 1901.6 486.18 C1901.47 484.56 1900.88 482.94 1900.8 481.32 C1900.72 479.7 1900.75 478.07 1901.1 476.45 C1901.45 474.83 1902.1 473.21 1902.9 471.59 C1903.7 469.97 1904.73 468.62 1905.9 466.73 C1907.07 464.84 1908.7 462.41 1909.9 460.24 C1911.1 458.08 1912.1 455.92 1913.1 453.76 C1914.1 451.6 1915.05 449.44 1915.9 447.28 C1916.75 445.11 1917.58 442.95 1918.2 440.79 C1918.82 438.63 1919.18 436.47 1919.6 434.31 C1920.02 432.15 1920.4 429.99 1920.7 427.82 C1921 425.66 1921.2 423.77 1921.4 421.34 C1921.6 418.91 1921.8 416.48 1921.9 413.24 C1922 409.99 1922 405.67 1922 401.89 C1922 398.11 1921.92 392.43 1921.9 390.54 Z" stroke="#111" stroke-width="1.25" fill="#EFCFCF" stroke-linejoin="round"/>
<g fill="#D0585C" fill-opacity="0.36"><circle cx="1920.39" cy="390.44" r="2.25"/><circle cx="1930.64" cy="406.73" r="2.25"/><circle cx="1920.99" cy="428.08" r="2.25"/><circle cx="1920.99" cy="439.54" r="2.25"/><circle cx="1935.11" cy="450.64" r="2.25"/><circle cx="1927.63" cy="452.21" r="2.25"/><circle cx="1913.99" cy="452.21" r="2.25"/><circle cx="1915.32" cy="454.02" r="2.25"/><circle cx="1930.04" cy="463.91" r="2.25"/><circle cx="1934.26" cy="465.24" r="2.25"/><circle cx="1913.15" cy="465.48" r="2.25"/><circle cx="1921.59" cy="465.24" r="2.25"/><circle cx="1911.34" cy="466.93" r="2.25"/><circle cx="1922.2" cy="468.5" r="2.25"/><circle cx="1925.82" cy="470.31" r="2.25"/><circle cx="1911.34" cy="470.31" r="2.25"/><circle cx="1914.11" cy="471.75" r="2.25"/><circle cx="1927.63" cy="474.53" r="2.25"/><circle cx="1917.01" cy="474.89" r="2.25"/><circle cx="1921.59" cy="475.13" r="2.25"/><circle cx="1932.09" cy="475.13" r="2.25"/><circle cx="1934.02" cy="476.58" r="2.25"/><circle cx="1923.4" cy="478.51" r="2.25"/><circle cx="1916.16" cy="480.56" r="2.25"/><circle cx="1910.37" cy="481.53" r="2.25"/><circle cx="1922.8" cy="481.77" r="2.25"/><circle cx="1915.56" cy="482.97" r="2.25"/><circle cx="1924.61" cy="484.54" r="2.25"/><circle cx="1911.1" cy="484.78" r="2.25"/><circle cx="1922.2" cy="486.23" r="2.25"/><circle cx="1933.66" cy="489.61" r="2.25"/><circle cx="1930.04" cy="491.42" r="2.25"/><circle cx="1931.25" cy="492.63" r="2.25"/><circle cx="1915.56" cy="495.88" r="2.25"/><circle cx="1920.63" cy="494.44" r="2.25"/><circle cx="1926.06" cy="494.44" r="2.25"/><circle cx="1911.34" cy="501.07" r="2.25"/><circle cx="1912.55" cy="502.28" r="2.25"/><circle cx="1927.02" cy="499.26" r="2.25"/><circle cx="1929.44" cy="499.26" r="2.25"/><circle cx="1933.66" cy="499.26" r="2.25"/><circle cx="1919.54" cy="502.88" r="2.25"/><circle cx="1923.77" cy="505.66" r="2.25"/><circle cx="1927.26" cy="505.66" r="2.25"/><circle cx="1912.79" cy="508.91" r="2.25"/><circle cx="1917.61" cy="508.31" r="2.25"/><circle cx="1934.26" cy="507.71" r="2.25"/><circle cx="1934.86" cy="508.67" r="2.25"/><circle cx="1924.01" cy="510.72" r="2.25"/><circle cx="1926.42" cy="511.93" r="2.25"/><circle cx="1927.63" cy="512.53" r="2.25"/><circle cx="1930.64" cy="512.29" r="2.25"/><circle cx="1912.79" cy="515.55" r="2.25"/><circle cx="1918.58" cy="515.55" r="2.25"/><circle cx="1920.63" cy="514.7" r="2.25"/><circle cx="1927.02" cy="514.94" r="2.25"/><circle cx="1911.34" cy="518.56" r="2.25"/><circle cx="1920.99" cy="518.56" r="2.25"/><circle cx="1929.44" cy="518.56" r="2.25"/><circle cx="1930.64" cy="517.96" r="2.25"/></g>
<rect x="1885.5" y="384" width="76.2" height="141.4" fill="none" stroke="#555555" stroke-width="1.2"/>
<text x="1879.3" y="526.5" font-size="22" text-anchor="end" fill="#4d4d4d" stroke="#4d4d4d" stroke-width="0.25">0</text>
<text x="1879.3" y="494.08" font-size="22" text-anchor="end" fill="#4d4d4d" stroke="#4d4d4d" stroke-width="0.25">20</text>
<text x="1879.3" y="461.66" font-size="22" text-anchor="end" fill="#4d4d4d" stroke="#4d4d4d" stroke-width="0.25">40</text>
<text x="1879.3" y="429.24" font-size="22" text-anchor="end" fill="#4d4d4d" stroke="#4d4d4d" stroke-width="0.25">60</text>
<text x="1879.3" y="396.82" font-size="22" text-anchor="end" fill="#4d4d4d" stroke="#4d4d4d" stroke-width="0.25">80</text>
<text x="1842.6" y="305.7" font-size="25.3" text-anchor="middle" transform="rotate(-90 1842.6 305.7)" textLength="221.5" lengthAdjust="spacingAndGlyphs" stroke="#000" stroke-width="0.9">Frequency of SCGs</text>
<text transform="translate(1005.6 37.6) scale(0.80 1)" font-size="53" font-weight="bold" stroke="#000" stroke-width="2.2" style="stroke-linejoin:miter">b</text>
<rect x="1007.1" y="0" width="7.9" height="6" fill="#000"/>
</g>
<g id="panel-c">
<rect x="207.8" y="600.2" width="1488.9" height="93.6" fill="#eaeaea"/>
<path d="M207.9 693.8h17.1v-73.1h-17.1z M227.53 693.8h17.1v-71.79h-17.1z M247.15 693.8h17.1v-93.6h-17.1z M266.77 693.8h17.1v-64.49h-17.1z M286.4 693.8h17.1v-66.92h-17.1z M306.02 693.8h17.1v-60h-17.1z M325.65 693.8h17.1v-69.64h-17.1z M345.27 693.8h17.1v-77.97h-17.1z M364.9 693.8h17.1v-68.61h-17.1z M384.52 693.8h17.1v-33.6h-17.1z M404.15 693.8h17.1v-46.43h-17.1z M423.77 693.8h17.1v-66.55h-17.1z M443.4 693.8h17.1v-47.17h-17.1z M463.02 693.8h17.1v-49.61h-17.1z M482.65 693.8h17.1v-14.23h-17.1z M502.27 693.8h17.1v-41.28h-17.1z M521.9 693.8h17.1v-48.58h-17.1z M541.52 693.8h17.1v-38.47h-17.1z M561.15 693.8h17.1v-60h-17.1z M580.77 693.8h17.1v-24.62h-17.1z M600.4 693.8h17.1v-28.74h-17.1z M620.02 693.8h17.1v-32.2h-17.1z M639.65 693.8h17.1v-56.16h-17.1z M659.27 693.8h17.1v-29.86h-17.1z M678.9 693.8h17.1v-24.99h-17.1z M698.52 693.8h17.1v-34.63h-17.1z M718.15 693.8h17.1v-51.67h-17.1z M737.77 693.8h17.1v-27.71h-17.1z M757.4 693.8h17.1v-43.71h-17.1z M777.02 693.8h17.1v-5.9h-17.1z M796.65 693.8h17.1v-41.28h-17.1z M816.27 693.8h17.1v-34.63h-17.1z M835.9 693.8h17.1v-13.2h-17.1z M855.52 693.8h17.1v-17.32h-17.1z M875.15 693.8h17.1v-48.86h-17.1z M894.77 693.8h17.1v-44.74h-17.1z M914.4 693.8h17.1v-15.91h-17.1z M934.02 693.8h17.1v-25.27h-17.1z M953.65 693.8h17.1v-35.01h-17.1z M973.27 693.8h17.1v-26.02h-17.1z M992.9 693.8h17.1v-24.62h-17.1z M1012.52 693.8h17.1v-16.66h-17.1z M1032.15 693.8h17.1v-16.66h-17.1z M1051.78 693.8h17.1v-7.58h-17.1z M1071.4 693.8h17.1v-20.78h-17.1z M1091.03 693.8h17.1v-20.78h-17.1z M1110.65 693.8h17.1v-28.74h-17.1z M1130.28 693.8h17.1v-13.48h-17.1z M1149.9 693.8h17.1v-12.82h-17.1z M1169.53 693.8h17.1v-4.12h-17.1z M1189.15 693.8h17.1v-7.58h-17.1z M1208.78 693.8h17.1v-6.93h-17.1z M1228.4 693.8h17.1v-23.21h-17.1z M1248.03 693.8h17.1v-0.66h-17.1z M1267.65 693.8h17.1v-6.27h-17.1z M1287.28 693.8h17.1v-1.78h-17.1z M1306.9 693.8h17.1v-8.7h-17.1z M1326.53 693.8h17.1v-3.46h-17.1z M1346.15 693.8h17.1v-2.81h-17.1z M1365.78 693.8h17.1v-1.4h-17.1z M1385.4 693.8h17.1v-0.66h-17.1z M1405.03 693.8h17.1v-1.4h-17.1z M1424.65 693.8h17.1v-1.78h-17.1z M1444.28 693.8h17.1v-3.46h-17.1z M1463.9 693.8h17.1v-0.37h-17.1z M1483.53 693.8h17.1v-1.03h-17.1z M1503.15 693.8h17.1v-0.66h-17.1z M1522.78 693.8h17.1v-0.37h-17.1z M1542.4 693.8h17.1v-0.37h-17.1z M1562.03 693.8h17.1v-0.37h-17.1z M1581.65 693.8h17.1v-0.37h-17.1z M1601.28 693.8h17.1v-0.37h-17.1z M1620.9 693.8h17.1v-0.37h-17.1z M1640.53 693.8h17.1v-0.37h-17.1z M1660.15 693.8h17.1v-0.66h-17.1z M1679.78 693.8h17.1v-0.66h-17.1z" stroke="none" stroke-width="1" fill="#6184A1"/>
<rect x="207.8" y="708.2" width="1488.9" height="93.3" fill="#ecedee"/>
<path d="M207.9 801.5h17.1v-93.3h-17.1z M227.53 801.5h17.1v-92.27h-17.1z M247.15 801.5h17.1v-84.62h-17.1z M266.77 801.5h17.1v-79.12h-17.1z M286.4 801.5h17.1v-73.52h-17.1z M306.02 801.5h17.1v-73.52h-17.1z M325.65 801.5h17.1v-72.49h-17.1z M345.27 801.5h17.1v-70.44h-17.1z M364.9 801.5h17.1v-66.62h-17.1z M384.52 801.5h17.1v-63.44h-17.1z M404.15 801.5h17.1v-61.39h-17.1z M423.77 801.5h17.1v-60.74h-17.1z M443.4 801.5h17.1v-60.37h-17.1z M463.02 801.5h17.1v-60.37h-17.1z M482.65 801.5h17.1v-59.62h-17.1z M502.27 801.5h17.1v-57.94h-17.1z M521.9 801.5h17.1v-56.54h-17.1z M541.52 801.5h17.1v-55.51h-17.1z M561.15 801.5h17.1v-54.77h-17.1z M580.77 801.5h17.1v-54.49h-17.1z M600.4 801.5h17.1v-54.11h-17.1z M620.02 801.5h17.1v-53.37h-17.1z M639.65 801.5h17.1v-53.09h-17.1z M659.27 801.5h17.1v-51.69h-17.1z M678.9 801.5h17.1v-51.69h-17.1z M698.52 801.5h17.1v-51.69h-17.1z M718.15 801.5h17.1v-50.66h-17.1z M737.77 801.5h17.1v-49.64h-17.1z M757.4 801.5h17.1v-49.64h-17.1z M777.02 801.5h17.1v-47.86h-17.1z M796.65 801.5h17.1v-45.81h-17.1z M816.27 801.5h17.1v-45.06h-17.1z M835.9 801.5h17.1v-44.78h-17.1z M855.52 801.5h17.1v-44.41h-17.1z M875.15 801.5h17.1v-43.01h-17.1z M894.77 801.5h17.1v-39.19h-17.1z M914.4 801.5h17.1v-39.19h-17.1z M934.02 801.5h17.1v-37.79h-17.1z M953.65 801.5h17.1v-37.41h-17.1z M973.27 801.5h17.1v-36.76h-17.1z M992.9 801.5h17.1v-33.68h-17.1z M1012.52 801.5h17.1v-33.31h-17.1z M1032.15 801.5h17.1v-32.28h-17.1z M1051.78 801.5h17.1v-28.83h-17.1z M1071.4 801.5h17.1v-27.43h-17.1z M1091.03 801.5h17.1v-25.28h-17.1z M1110.65 801.5h17.1v-25.28h-17.1z M1130.28 801.5h17.1v-25h-17.1z M1149.9 801.5h17.1v-23.98h-17.1z M1169.53 801.5h17.1v-21.46h-17.1z M1189.15 801.5h17.1v-21.46h-17.1z M1208.78 801.5h17.1v-20.43h-17.1z M1228.4 801.5h17.1v-16.98h-17.1z M1248.03 801.5h17.1v-13.16h-17.1z M1267.65 801.5h17.1v-9.33h-17.1z M1287.28 801.5h17.1v-9.05h-17.1z M1306.9 801.5h17.1v-7.28h-17.1z M1326.53 801.5h17.1v-6.9h-17.1z M1346.15 801.5h17.1v-5.88h-17.1z M1365.78 801.5h17.1v-5.5h-17.1z M1385.4 801.5h17.1v-5.22h-17.1z M1405.03 801.5h17.1v-3.08h-17.1z M1424.65 801.5h17.1v-2.8h-17.1z M1444.28 801.5h17.1v-2.43h-17.1z M1463.9 801.5h17.1v-1.4h-17.1z M1483.53 801.5h17.1v-1.03h-17.1z M1503.15 801.5h17.1v-1.03h-17.1z M1522.78 801.5h17.1v-0.65h-17.1z M1542.4 801.5h17.1v-0.65h-17.1z M1562.03 801.5h17.1v-0.65h-17.1z M1581.65 801.5h17.1v-0.37h-17.1z M1601.28 801.5h17.1v-0.37h-17.1z M1620.9 801.5h17.1v-0.37h-17.1z M1640.53 801.5h17.1v-0.37h-17.1z M1660.15 801.5h17.1v-0.37h-17.1z M1679.78 801.5h17.1v-0.37h-17.1z" stroke="none" stroke-width="1" fill="#6184A1"/>
<path d="M207.9 834.3h17.1v359.1h-17.1z M227.53 834.3h17.1v359.1h-17.1z M247.15 834.3h17.1v359.1h-17.1z M266.77 834.3h17.1v359.1h-17.1z M286.4 834.3h17.1v359.1h-17.1z M306.02 834.3h17.1v359.1h-17.1z M325.65 834.3h17.1v359.1h-17.1z M345.27 834.3h17.1v359.1h-17.1z M364.9 834.3h17.1v359.1h-17.1z M384.52 834.3h17.1v359.1h-17.1z M404.15 834.3h17.1v359.1h-17.1z M423.77 834.3h17.1v359.1h-17.1z M443.4 834.3h17.1v359.1h-17.1z M463.02 834.3h17.1v359.1h-17.1z M482.65 834.3h17.1v359.1h-17.1z M502.27 834.3h17.1v359.1h-17.1z M521.9 834.3h17.1v359.1h-17.1z M541.52 834.3h17.1v359.1h-17.1z M561.15 834.3h17.1v359.1h-17.1z M580.77 834.3h17.1v359.1h-17.1z M600.4 834.3h17.1v359.1h-17.1z M620.02 834.3h17.1v359.1h-17.1z M639.65 834.3h17.1v359.1h-17.1z M659.27 834.3h17.1v359.1h-17.1z M678.9 834.3h17.1v359.1h-17.1z M698.52 834.3h17.1v359.1h-17.1z M718.15 834.3h17.1v359.1h-17.1z M737.77 834.3h17.1v359.1h-17.1z M757.4 834.3h17.1v359.1h-17.1z M777.02 834.3h17.1v359.1h-17.1z M796.65 834.3h17.1v359.1h-17.1z M816.27 834.3h17.1v359.1h-17.1z M835.9 834.3h17.1v359.1h-17.1z M855.52 834.3h17.1v359.1h-17.1z M875.15 834.3h17.1v359.1h-17.1z M894.77 834.3h17.1v359.1h-17.1z M914.4 834.3h17.1v359.1h-17.1z M934.02 834.3h17.1v359.1h-17.1z M953.65 834.3h17.1v359.1h-17.1z M973.27 834.3h17.1v359.1h-17.1z M992.9 834.3h17.1v359.1h-17.1z M1012.52 834.3h17.1v359.1h-17.1z M1032.15 834.3h17.1v359.1h-17.1z M1051.78 834.3h17.1v359.1h-17.1z M1071.4 834.3h17.1v359.1h-17.1z M1091.03 834.3h17.1v359.1h-17.1z M1110.65 834.3h17.1v359.1h-17.1z M1130.28 834.3h17.1v359.1h-17.1z M1149.9 834.3h17.1v359.1h-17.1z M1169.53 834.3h17.1v359.1h-17.1z M1189.15 834.3h17.1v359.1h-17.1z M1208.78 834.3h17.1v359.1h-17.1z M1228.4 834.3h17.1v359.1h-17.1z M1248.03 834.3h17.1v359.1h-17.1z M1267.65 834.3h17.1v359.1h-17.1z M1287.28 834.3h17.1v359.1h-17.1z M1306.9 834.3h17.1v359.1h-17.1z M1326.53 834.3h17.1v359.1h-17.1z M1346.15 834.3h17.1v359.1h-17.1z M1365.78 834.3h17.1v359.1h-17.1z M1385.4 834.3h17.1v359.1h-17.1z M1405.03 834.3h17.1v359.1h-17.1z M1424.65 834.3h17.1v359.1h-17.1z M1444.28 834.3h17.1v359.1h-17.1z M1463.9 834.3h17.1v359.1h-17.1z M1483.53 834.3h17.1v359.1h-17.1z M1503.15 834.3h17.1v359.1h-17.1z M1522.78 834.3h17.1v359.1h-17.1z M1542.4 834.3h17.1v359.1h-17.1z M1562.03 834.3h17.1v359.1h-17.1z M1581.65 834.3h17.1v359.1h-17.1z M1601.28 834.3h17.1v359.1h-17.1z M1620.9 834.3h17.1v359.1h-17.1z M1640.53 834.3h17.1v359.1h-17.1z M1660.15 834.3h17.1v359.1h-17.1z M1679.78 834.3h17.1v359.1h-17.1z" stroke="none" stroke-width="1" fill="#eeeeee"/>
<rect x="207.9" y="834.3" width="17.1" height="17.96" fill="#e8e8e8"/>
<rect x="227.53" y="834.3" width="17.1" height="17.96" fill="#dedede"/>
<rect x="247.15" y="834.3" width="17.1" height="17.96" fill="#bbbbbb"/>
<rect x="266.77" y="834.3" width="17.1" height="17.96" fill="#e4e4e4"/>
<rect x="286.4" y="834.3" width="17.1" height="17.96" fill="#b2b2b2"/>
<rect x="306.02" y="834.3" width="17.1" height="17.96" fill="#e4e4e4"/>
<rect x="325.65" y="834.3" width="17.1" height="17.96" fill="#000000"/>
<rect x="345.27" y="834.3" width="17.1" height="17.96" fill="#e4e4e4"/>
<rect x="364.9" y="834.3" width="17.1" height="17.96" fill="#000000"/>
<rect x="384.52" y="834.3" width="17.1" height="17.96" fill="#e2e2e2"/>
<rect x="404.15" y="834.3" width="17.1" height="17.96" fill="#d7d7d7"/>
<rect x="423.77" y="834.3" width="17.1" height="17.96" fill="#d0d0d0"/>
<rect x="443.4" y="834.3" width="17.1" height="17.96" fill="#000000"/>
<rect x="463.02" y="834.3" width="17.1" height="17.96" fill="#a8a8a8"/>
<rect x="482.65" y="834.3" width="17.1" height="17.96" fill="#f0f0f0"/>
<rect x="502.27" y="834.3" width="17.1" height="17.96" fill="#e8e8e8"/>
<rect x="521.9" y="834.3" width="17.1" height="17.96" fill="#d7d7d7"/>
<rect x="541.52" y="834.3" width="17.1" height="17.96" fill="#f0f0f0"/>
<rect x="561.15" y="834.3" width="17.1" height="17.96" fill="#e4e4e4"/>
<rect x="580.77" y="834.3" width="17.1" height="17.96" fill="#dcdcdc"/>
<rect x="620.02" y="834.3" width="17.1" height="17.96" fill="#e4e4e4"/>
<rect x="639.65" y="834.3" width="17.1" height="17.96" fill="#000000"/>
<rect x="678.9" y="834.3" width="17.1" height="17.96" fill="#e8e8e8"/>
<rect x="698.52" y="834.3" width="17.1" height="17.96" fill="#bcbcbc"/>
<rect x="718.15" y="834.3" width="17.1" height="17.96" fill="#000000"/>
<rect x="737.77" y="834.3" width="17.1" height="17.96" fill="#c0c0c0"/>
<rect x="757.4" y="834.3" width="17.1" height="17.96" fill="#dedede"/>
<rect x="777.02" y="834.3" width="17.1" height="17.96" fill="#e8e8e8"/>
<rect x="816.27" y="834.3" width="17.1" height="17.96" fill="#000000"/>
<rect x="875.15" y="834.3" width="17.1" height="17.96" fill="#dedede"/>
<rect x="894.77" y="834.3" width="17.1" height="17.96" fill="#dedede"/>
<rect x="953.65" y="834.3" width="17.1" height="17.96" fill="#eaeaea"/>
<rect x="973.27" y="834.3" width="17.1" height="17.96" fill="#000000"/>
<rect x="1071.4" y="834.3" width="17.1" height="17.96" fill="#000000"/>
<rect x="1091.03" y="834.3" width="17.1" height="17.96" fill="#e8e8e8"/>
<rect x="1110.65" y="834.3" width="17.1" height="17.96" fill="#cbcbcb"/>
<rect x="1130.28" y="834.3" width="17.1" height="17.96" fill="#e1e1e1"/>
<rect x="1149.9" y="834.3" width="17.1" height="17.96" fill="#c6c6c6"/>
<rect x="1228.4" y="834.3" width="17.1" height="17.96" fill="#000000"/>
<rect x="1267.65" y="834.3" width="17.1" height="17.96" fill="#eaeaea"/>
<rect x="1346.15" y="834.3" width="17.1" height="17.96" fill="#dadada"/>
<rect x="1444.28" y="834.3" width="17.1" height="17.96" fill="#000000"/>
<rect x="1620.9" y="834.3" width="17.1" height="17.96" fill="#bcbcbc"/>
<rect x="1660.15" y="834.3" width="17.1" height="17.96" fill="#dedede"/>
<rect x="1051.78" y="852.25" width="17.1" height="17.96" fill="#eaeaea"/>
<rect x="207.9" y="870.21" width="17.1" height="17.96" fill="#e4e4e4"/>
<rect x="227.53" y="870.21" width="17.1" height="17.96" fill="#b9b9b9"/>
<rect x="345.27" y="870.21" width="17.1" height="17.96" fill="#e8e8e8"/>
<rect x="423.77" y="870.21" width="17.1" height="17.96" fill="#000000"/>
<rect x="482.65" y="870.21" width="17.1" height="17.96" fill="#3e3e3e"/>
<rect x="541.52" y="870.21" width="17.1" height="17.96" fill="#dcdcdc"/>
<rect x="639.65" y="870.21" width="17.1" height="17.96" fill="#e4e4e4"/>
<rect x="678.9" y="870.21" width="17.1" height="17.96" fill="#bebebe"/>
<rect x="777.02" y="870.21" width="17.1" height="17.96" fill="#0a0a0a"/>
<rect x="796.65" y="870.21" width="17.1" height="17.96" fill="#c8c8c8"/>
<rect x="835.9" y="870.21" width="17.1" height="17.96" fill="#dedede"/>
<rect x="855.52" y="870.21" width="17.1" height="17.96" fill="#e8e8e8"/>
<rect x="875.15" y="870.21" width="17.1" height="17.96" fill="#afafaf"/>
<rect x="894.77" y="870.21" width="17.1" height="17.96" fill="#9b9b9b"/>
<rect x="914.4" y="870.21" width="17.1" height="17.96" fill="#c8c8c8"/>
<rect x="934.02" y="870.21" width="17.1" height="17.96" fill="#eaeaea"/>
<rect x="992.9" y="870.21" width="17.1" height="17.96" fill="#bebebe"/>
<rect x="1051.78" y="870.21" width="17.1" height="17.96" fill="#cdcdcd"/>
<rect x="1091.03" y="870.21" width="17.1" height="17.96" fill="#000000"/>
<rect x="1110.65" y="870.21" width="17.1" height="17.96" fill="#acacac"/>
<rect x="1130.28" y="870.21" width="17.1" height="17.96" fill="#dadada"/>
<rect x="1149.9" y="870.21" width="17.1" height="17.96" fill="#c8c8c8"/>
<rect x="1189.15" y="870.21" width="17.1" height="17.96" fill="#e1e1e1"/>
<rect x="1346.15" y="870.21" width="17.1" height="17.96" fill="#e4e4e4"/>
<rect x="1424.65" y="870.21" width="17.1" height="17.96" fill="#555555"/>
<rect x="1503.15" y="870.21" width="17.1" height="17.96" fill="#d2d2d2"/>
<rect x="1562.03" y="870.21" width="17.1" height="17.96" fill="#bcbcbc"/>
<rect x="777.02" y="888.16" width="17.1" height="17.96" fill="#e1e1e1"/>
<rect x="1444.28" y="888.16" width="17.1" height="17.96" fill="#eaeaea"/>
<rect x="227.53" y="906.12" width="17.1" height="17.96" fill="#cdcdcd"/>
<rect x="423.77" y="906.12" width="17.1" height="17.96" fill="#e1e1e1"/>
<rect x="482.65" y="906.12" width="17.1" height="17.96" fill="#b2b2b2"/>
<rect x="678.9" y="906.12" width="17.1" height="17.96" fill="#eaeaea"/>
<rect x="777.02" y="906.12" width="17.1" height="17.96" fill="#c8c8c8"/>
<rect x="796.65" y="906.12" width="17.1" height="17.96" fill="#d7d7d7"/>
<rect x="875.15" y="906.12" width="17.1" height="17.96" fill="#414141"/>
<rect x="894.77" y="906.12" width="17.1" height="17.96" fill="#000000"/>
<rect x="914.4" y="906.12" width="17.1" height="17.96" fill="#e1e1e1"/>
<rect x="992.9" y="906.12" width="17.1" height="17.96" fill="#eaeaea"/>
<rect x="1051.78" y="906.12" width="17.1" height="17.96" fill="#acacac"/>
<rect x="1091.03" y="906.12" width="17.1" height="17.96" fill="#c8c8c8"/>
<rect x="1110.65" y="906.12" width="17.1" height="17.96" fill="#dedede"/>
<rect x="1189.15" y="906.12" width="17.1" height="17.96" fill="#d7d7d7"/>
<rect x="1346.15" y="906.12" width="17.1" height="17.96" fill="#e2e2e2"/>
<rect x="1424.65" y="906.12" width="17.1" height="17.96" fill="#000000"/>
<rect x="1562.03" y="906.12" width="17.1" height="17.96" fill="#e4e4e4"/>
<rect x="286.4" y="924.08" width="17.1" height="17.96" fill="#c6c6c6"/>
<rect x="325.65" y="924.08" width="17.1" height="17.96" fill="#eaeaea"/>
<rect x="404.15" y="924.08" width="17.1" height="17.96" fill="#e4e4e4"/>
<rect x="757.4" y="924.08" width="17.1" height="17.96" fill="#c3c3c3"/>
<rect x="777.02" y="924.08" width="17.1" height="17.96" fill="#cbcbcb"/>
<rect x="973.27" y="924.08" width="17.1" height="17.96" fill="#e8e8e8"/>
<rect x="1130.28" y="924.08" width="17.1" height="17.96" fill="#e6e6e6"/>
<rect x="1424.65" y="942.03" width="17.1" height="17.96" fill="#e1e1e1"/>
<rect x="1620.9" y="942.03" width="17.1" height="17.96" fill="#bebebe"/>
<rect x="286.4" y="959.99" width="17.1" height="17.96" fill="#e8e8e8"/>
<rect x="404.15" y="959.99" width="17.1" height="17.96" fill="#e4e4e4"/>
<rect x="463.02" y="959.99" width="17.1" height="17.96" fill="#e8e8e8"/>
<rect x="521.9" y="959.99" width="17.1" height="17.96" fill="#c8c8c8"/>
<rect x="816.27" y="959.99" width="17.1" height="17.96" fill="#afafaf"/>
<rect x="953.65" y="959.99" width="17.1" height="17.96" fill="#dcdcdc"/>
<rect x="973.27" y="959.99" width="17.1" height="17.96" fill="#5a5a5a"/>
<rect x="1130.28" y="959.99" width="17.1" height="17.96" fill="#e6e6e6"/>
<rect x="463.02" y="977.94" width="17.1" height="17.96" fill="#9b9b9b"/>
<rect x="502.27" y="977.94" width="17.1" height="17.96" fill="#bbbbbb"/>
<rect x="1051.78" y="977.94" width="17.1" height="17.96" fill="#c6c6c6"/>
<rect x="1424.65" y="977.94" width="17.1" height="17.96" fill="#d2d2d2"/>
<rect x="423.77" y="995.89" width="17.1" height="17.96" fill="#e8e8e8"/>
<rect x="561.15" y="995.89" width="17.1" height="17.96" fill="#e8e8e8"/>
<rect x="423.77" y="1013.85" width="17.1" height="17.96" fill="#e6e6e6"/>
<rect x="777.02" y="1013.85" width="17.1" height="17.96" fill="#aaaaaa"/>
<rect x="1385.4" y="1031.81" width="17.1" height="17.96" fill="#eaeaea"/>
<rect x="1424.65" y="1031.81" width="17.1" height="17.96" fill="#dadada"/>
<rect x="266.77" y="1049.76" width="17.1" height="17.96" fill="#eaeaea"/>
<rect x="306.02" y="1049.76" width="17.1" height="17.96" fill="#e1e1e1"/>
<rect x="423.77" y="1049.76" width="17.1" height="17.96" fill="#cbcbcb"/>
<rect x="1346.15" y="1049.76" width="17.1" height="17.96" fill="#000000"/>
<rect x="325.65" y="1067.72" width="17.1" height="17.96" fill="#cdcdcd"/>
<rect x="521.9" y="1067.72" width="17.1" height="17.96" fill="#000000"/>
<rect x="816.27" y="1067.72" width="17.1" height="17.96" fill="#e8e8e8"/>
<rect x="973.27" y="1067.72" width="17.1" height="17.96" fill="#e4e4e4"/>
<rect x="207.9" y="1085.67" width="17.1" height="17.96" fill="#000000"/>
<rect x="227.53" y="1085.67" width="17.1" height="17.96" fill="#afafaf"/>
<rect x="247.15" y="1085.67" width="17.1" height="17.96" fill="#000000"/>
<rect x="266.77" y="1085.67" width="17.1" height="17.96" fill="#000000"/>
<rect x="286.4" y="1085.67" width="17.1" height="17.96" fill="#000000"/>
<rect x="306.02" y="1085.67" width="17.1" height="17.96" fill="#000000"/>
<rect x="325.65" y="1085.67" width="17.1" height="17.96" fill="#d4d4d4"/>
<rect x="345.27" y="1085.67" width="17.1" height="17.96" fill="#000000"/>
<rect x="384.52" y="1085.67" width="17.1" height="17.96" fill="#000000"/>
<rect x="404.15" y="1085.67" width="17.1" height="17.96" fill="#000000"/>
<rect x="423.77" y="1085.67" width="17.1" height="17.96" fill="#b2b2b2"/>
<rect x="443.4" y="1085.67" width="17.1" height="17.96" fill="#c8c8c8"/>
<rect x="463.02" y="1085.67" width="17.1" height="17.96" fill="#000000"/>
<rect x="482.65" y="1085.67" width="17.1" height="17.96" fill="#b6b6b6"/>
<rect x="502.27" y="1085.67" width="17.1" height="17.96" fill="#000000"/>
<rect x="521.9" y="1085.67" width="17.1" height="17.96" fill="#3c3c3c"/>
<rect x="541.52" y="1085.67" width="17.1" height="17.96" fill="#9e9e9e"/>
<rect x="561.15" y="1085.67" width="17.1" height="17.96" fill="#000000"/>
<rect x="580.77" y="1085.67" width="17.1" height="17.96" fill="#000000"/>
<rect x="600.4" y="1085.67" width="17.1" height="17.96" fill="#000000"/>
<rect x="620.02" y="1085.67" width="17.1" height="17.96" fill="#000000"/>
<rect x="659.27" y="1085.67" width="17.1" height="17.96" fill="#000000"/>
<rect x="678.9" y="1085.67" width="17.1" height="17.96" fill="#000000"/>
<rect x="698.52" y="1085.67" width="17.1" height="17.96" fill="#000000"/>
<rect x="737.77" y="1085.67" width="17.1" height="17.96" fill="#000000"/>
<rect x="777.02" y="1085.67" width="17.1" height="17.96" fill="#cbcbcb"/>
<rect x="796.65" y="1085.67" width="17.1" height="17.96" fill="#000000"/>
<rect x="835.9" y="1085.67" width="17.1" height="17.96" fill="#000000"/>
<rect x="855.52" y="1085.67" width="17.1" height="17.96" fill="#000000"/>
<rect x="875.15" y="1085.67" width="17.1" height="17.96" fill="#000000"/>
<rect x="894.77" y="1085.67" width="17.1" height="17.96" fill="#afafaf"/>
<rect x="914.4" y="1085.67" width="17.1" height="17.96" fill="#000000"/>
<rect x="934.02" y="1085.67" width="17.1" height="17.96" fill="#000000"/>
<rect x="953.65" y="1085.67" width="17.1" height="17.96" fill="#000000"/>
<rect x="973.27" y="1085.67" width="17.1" height="17.96" fill="#0f0f0f"/>
<rect x="992.9" y="1085.67" width="17.1" height="17.96" fill="#000000"/>
<rect x="1012.52" y="1085.67" width="17.1" height="17.96" fill="#000000"/>
<rect x="1032.15" y="1085.67" width="17.1" height="17.96" fill="#000000"/>
<rect x="1051.78" y="1085.67" width="17.1" height="17.96" fill="#000000"/>
<rect x="1071.4" y="1085.67" width="17.1" height="17.96" fill="#585858"/>
<rect x="1091.03" y="1085.67" width="17.1" height="17.96" fill="#2d2d2d"/>
<rect x="1110.65" y="1085.67" width="17.1" height="17.96" fill="#000000"/>
<rect x="1130.28" y="1085.67" width="17.1" height="17.96" fill="#000000"/>
<rect x="1149.9" y="1085.67" width="17.1" height="17.96" fill="#000000"/>
<rect x="1169.53" y="1085.67" width="17.1" height="17.96" fill="#000000"/>
<rect x="1189.15" y="1085.67" width="17.1" height="17.96" fill="#000000"/>
<rect x="1208.78" y="1085.67" width="17.1" height="17.96" fill="#000000"/>
<rect x="1228.4" y="1085.67" width="17.1" height="17.96" fill="#585858"/>
<rect x="1248.03" y="1085.67" width="17.1" height="17.96" fill="#000000"/>
<rect x="1267.65" y="1085.67" width="17.1" height="17.96" fill="#000000"/>
<rect x="1287.28" y="1085.67" width="17.1" height="17.96" fill="#000000"/>
<rect x="1306.9" y="1085.67" width="17.1" height="17.96" fill="#000000"/>
<rect x="1326.53" y="1085.67" width="17.1" height="17.96" fill="#000000"/>
<rect x="1346.15" y="1085.67" width="17.1" height="17.96" fill="#919191"/>
<rect x="1365.78" y="1085.67" width="17.1" height="17.96" fill="#000000"/>
<rect x="1385.4" y="1085.67" width="17.1" height="17.96" fill="#000000"/>
<rect x="1405.03" y="1085.67" width="17.1" height="17.96" fill="#000000"/>
<rect x="1424.65" y="1085.67" width="17.1" height="17.96" fill="#5f5f5f"/>
<rect x="1444.28" y="1085.67" width="17.1" height="17.96" fill="#969696"/>
<rect x="1463.9" y="1085.67" width="17.1" height="17.96" fill="#000000"/>
<rect x="1483.53" y="1085.67" width="17.1" height="17.96" fill="#000000"/>
<rect x="1503.15" y="1085.67" width="17.1" height="17.96" fill="#000000"/>
<rect x="1542.4" y="1085.67" width="17.1" height="17.96" fill="#000000"/>
<rect x="1562.03" y="1085.67" width="17.1" height="17.96" fill="#000000"/>
<rect x="1581.65" y="1085.67" width="17.1" height="17.96" fill="#000000"/>
<rect x="1601.28" y="1085.67" width="17.1" height="17.96" fill="#000000"/>
<rect x="1620.9" y="1085.67" width="17.1" height="17.96" fill="#000000"/>
<rect x="1640.53" y="1085.67" width="17.1" height="17.96" fill="#000000"/>
<rect x="1660.15" y="1085.67" width="17.1" height="17.96" fill="#000000"/>
<rect x="1679.78" y="1085.67" width="17.1" height="17.96" fill="#000000"/>
<rect x="227.53" y="1103.62" width="17.1" height="17.96" fill="#e4e4e4"/>
<rect x="286.4" y="1103.62" width="17.1" height="17.96" fill="#d7d7d7"/>
<rect x="306.02" y="1103.62" width="17.1" height="17.96" fill="#bbbbbb"/>
<rect x="521.9" y="1103.62" width="17.1" height="17.96" fill="#e8e8e8"/>
<rect x="777.02" y="1103.62" width="17.1" height="17.96" fill="#e4e4e4"/>
<rect x="816.27" y="1103.62" width="17.1" height="17.96" fill="#323232"/>
<rect x="1522.78" y="1103.62" width="17.1" height="17.96" fill="#000000"/>
<rect x="1640.53" y="1103.62" width="17.1" height="17.96" fill="#e6e6e6"/>
<rect x="1051.78" y="1121.58" width="17.1" height="17.96" fill="#eaeaea"/>
<rect x="325.65" y="1139.54" width="17.1" height="17.96" fill="#e8e8e8"/>
<rect x="364.9" y="1139.54" width="17.1" height="17.96" fill="#c3c3c3"/>
<rect x="384.52" y="1139.54" width="17.1" height="17.96" fill="#dadada"/>
<rect x="423.77" y="1139.54" width="17.1" height="17.96" fill="#dedede"/>
<rect x="463.02" y="1139.54" width="17.1" height="17.96" fill="#e8e8e8"/>
<rect x="580.77" y="1139.54" width="17.1" height="17.96" fill="#d2d2d2"/>
<rect x="639.65" y="1139.54" width="17.1" height="17.96" fill="#e4e4e4"/>
<rect x="757.4" y="1139.54" width="17.1" height="17.96" fill="#000000"/>
<rect x="777.02" y="1139.54" width="17.1" height="17.96" fill="#000000"/>
<rect x="1405.03" y="1157.49" width="17.1" height="17.96" fill="#e8e8e8"/>
<rect x="227.53" y="1175.45" width="17.1" height="17.96" fill="#000000"/>
<rect x="286.4" y="1175.45" width="17.1" height="17.96" fill="#e6e6e6"/>
<rect x="345.27" y="1175.45" width="17.1" height="17.96" fill="#e8e8e8"/>
<rect x="423.77" y="1175.45" width="17.1" height="17.96" fill="#d7d7d7"/>
<rect x="482.65" y="1175.45" width="17.1" height="17.96" fill="#000000"/>
<rect x="502.27" y="1175.45" width="17.1" height="17.96" fill="#e8e8e8"/>
<rect x="521.9" y="1175.45" width="17.1" height="17.96" fill="#d7d7d7"/>
<rect x="541.52" y="1175.45" width="17.1" height="17.96" fill="#000000"/>
<rect x="620.02" y="1175.45" width="17.1" height="17.96" fill="#e8e8e8"/>
<rect x="639.65" y="1175.45" width="17.1" height="17.96" fill="#828282"/>
<rect x="678.9" y="1175.45" width="17.1" height="17.96" fill="#949494"/>
<rect x="875.15" y="1175.45" width="17.1" height="17.96" fill="#e6e6e6"/>
<rect x="914.4" y="1175.45" width="17.1" height="17.96" fill="#c0c0c0"/>
<rect x="973.27" y="1175.45" width="17.1" height="17.96" fill="#eaeaea"/>
<rect x="1012.52" y="1175.45" width="17.1" height="17.96" fill="#e2e2e2"/>
<rect x="1130.28" y="1175.45" width="17.1" height="17.96" fill="#bcbcbc"/>
<rect x="1149.9" y="1175.45" width="17.1" height="17.96" fill="#696969"/>
<rect x="1169.53" y="1175.45" width="17.1" height="17.96" fill="#e6e6e6"/>
<rect x="1189.15" y="1175.45" width="17.1" height="17.96" fill="#dadada"/>
<rect x="1267.65" y="1175.45" width="17.1" height="17.96" fill="#e1e1e1"/>
<rect x="1424.65" y="1175.45" width="17.1" height="17.96" fill="#e4e4e4"/>
<rect x="1444.28" y="1175.45" width="17.1" height="17.96" fill="#d2d2d2"/>
<rect x="1620.9" y="1175.45" width="17.1" height="17.96" fill="#e6e6e6"/>
<rect x="18.25" y="834.3" width="97.58" height="359.1" fill="#e3e3e3"/>
<path d="M18.25 834.3H115.83v18.01H18.25z M54.74 852.25H115.83v18.01H54.74z M68.62 870.21H115.83v18.01H68.62z M88.85 888.16H115.83v18.01H88.85z M75.76 906.12H115.83v18.01H75.76z M61.09 924.08H115.83v18.01H61.09z M43.24 942.03H115.83v18.01H43.24z M111.86 959.99H115.83v18.01H111.86z M83.7 977.94H115.83v18.01H83.7z M94.01 995.89H115.83v18.01H94.01z M109.88 1013.85H115.83v18.01H109.88z M108.29 1031.81H115.83v18.01H108.29z M106.31 1049.76H115.83v18.01H106.31z M107.5 1067.72H115.83v18.01H107.5z M107.5 1085.67H115.83v18.01H107.5z M106.31 1103.62H115.83v18.01H106.31z M87.66 1121.58H115.83v18.01H87.66z M103.53 1139.54H115.83v18.01H103.53z M101.94 1157.49H115.83v18.01H101.94z M83.3 1175.45H115.83v18.01H83.3z" stroke="none" stroke-width="1" fill="#414141"/>
<rect x="124.55" y="834.3" width="80.92" height="359.1" fill="#dbe5db"/>
<path d="M143.59 834.3H205.47v18.01H143.59z M142.01 852.25H205.47v18.01H142.01z M144.39 870.21H205.47v18.01H144.39z M143.59 888.16H205.47v18.01H143.59z M145.97 906.12H205.47v18.01H145.97z M154.3 924.08H205.47v18.01H154.3z M142.01 942.03H205.47v18.01H142.01z M167.79 959.99H205.47v18.01H167.79z M145.97 977.94H205.47v18.01H145.97z M124.55 995.89H205.47v18.01H124.55z M163.82 1013.85H205.47v18.01H163.82z M161.84 1031.81H205.47v18.01H161.84z M161.44 1049.76H205.47v18.01H161.44z M169.77 1067.72H205.47v18.01H169.77z M163.03 1085.67H205.47v18.01H163.03z M164.22 1103.62H205.47v18.01H164.22z M140.42 1121.58H205.47v18.01H140.42z M155.89 1139.54H205.47v18.01H155.89z M161.84 1157.49H205.47v18.01H161.84z M147.16 1175.45H205.47v18.01H147.16z" stroke="none" stroke-width="1" fill="#05470f"/>
<rect x="1699.4" y="834.3" width="43.6" height="359.1" fill="#dad9ea"/>
<path d="M1713.38 834.3H1743v18.01H1713.38z M1720.15 852.25H1743v18.01H1720.15z M1718.45 870.21H1743v18.01H1718.45z M1720.71 888.16H1743v18.01H1720.71z M1708.3 906.12H1743v18.01H1708.3z M1716.76 924.08H1743v18.01H1716.76z M1717.33 942.03H1743v18.01H1717.33z M1718.45 959.99H1743v18.01H1718.45z M1715.35 977.94H1743v18.01H1715.35z M1704.63 995.89H1743v18.01H1704.63z M1715.35 1013.85H1743v18.01H1715.35z M1713.66 1031.81H1743v18.01H1713.66z M1709.99 1049.76H1743v18.01H1709.99z M1708.86 1067.72H1743v18.01H1708.86z M1706.61 1085.67H1743v18.01H1706.61z M1706.04 1103.62H1743v18.01H1706.04z M1705.2 1121.58H1743v18.01H1705.2z M1706.61 1139.54H1743v18.01H1706.61z M1704.63 1157.49H1743v18.01H1704.63z M1700.12 1175.45H1743v18.01H1700.12z" stroke="none" stroke-width="1" fill="#000078"/>
<rect x="1763.66" y="834.3" width="38.07" height="359.1" fill="#e3d9d8"/>
<path d="M1763.66 834.3H1801.73v18.01H1763.66z M1792.21 852.25H1801.73v18.01H1792.21z M1793.8 870.21H1801.73v18.01H1793.8z M1800.14 888.16H1801.73v18.01H1800.14z M1790.63 906.12H1801.73v18.01H1790.63z M1798.56 924.08H1801.73v18.01H1798.56z M1799.35 942.03H1801.73v18.01H1799.35z M1800.54 959.99H1801.73v18.01H1800.54z M1800.54 977.94H1801.73v18.01H1800.54z M1791.02 995.89H1801.73v18.01H1791.02z M1800.54 1013.85H1801.73v18.01H1800.54z M1800.54 1031.81H1801.73v18.01H1800.54z M1797.76 1049.76H1801.73v18.01H1797.76z M1799.35 1067.72H1801.73v18.01H1799.35z M1798.95 1085.67H1801.73v18.01H1798.95z M1799.75 1103.62H1801.73v18.01H1799.75z M1798.95 1121.58H1801.73v18.01H1798.95z M1801.33 1139.54H1801.73v18.01H1801.33z M1800.54 1157.49H1801.73v18.01H1800.54z M1800.54 1175.45H1801.73v18.01H1800.54z" stroke="none" stroke-width="1" fill="#4a0404"/>
<text x="11" y="826.2" font-size="17.2" textLength="18.6" lengthAdjust="spacingAndGlyphs" stroke="#000" stroke-width="0.8">10</text>
<text x="107.2" y="826.2" font-size="17.2" stroke="#000" stroke-width="0.8">0</text>
<text x="121.4" y="826.2" font-size="17.2" textLength="19.8" lengthAdjust="spacingAndGlyphs" stroke="#000" stroke-width="0.8">53</text>
<text x="194.3" y="826.2" font-size="17.2" stroke="#000" stroke-width="0.8">0</text>
<text x="1689" y="826.2" font-size="17.2" textLength="29.9" lengthAdjust="spacingAndGlyphs" stroke="#000" stroke-width="0.8">100</text>
<text x="1734.3" y="826.2" font-size="17.2" stroke="#000" stroke-width="0.8">0</text>
<text x="1753.8" y="826.2" font-size="17.2" textLength="28.9" lengthAdjust="spacingAndGlyphs" stroke="#000" stroke-width="0.8">200</text>
<text x="1797" y="826.2" font-size="17.2" stroke="#000" stroke-width="0.8">0</text>
<text x="1700.8" y="616.2" font-size="16.9" textLength="68.7" lengthAdjust="spacingAndGlyphs" stroke="#000" stroke-width="0.8">7180922</text>
<text x="1700.8" y="694" font-size="16.9" textLength="29.5" lengthAdjust="spacingAndGlyphs" stroke="#000" stroke-width="0.8">155</text>
<text x="1700.8" y="724.3" font-size="16.9" textLength="78.6" lengthAdjust="spacingAndGlyphs" stroke="#000" stroke-width="0.8">73392048</text>
<text x="1700.8" y="802.2" font-size="16.9" textLength="49.2" lengthAdjust="spacingAndGlyphs" stroke="#000" stroke-width="0.8">13335</text>
<text x="1700.8" y="652.3" font-size="27.8" textLength="260.8" lengthAdjust="spacingAndGlyphs" stroke="#000" stroke-width="0.95">Num SNVs reported</text>
<text x="1700.8" y="762.8" font-size="27.8" textLength="210" lengthAdjust="spacingAndGlyphs" stroke="#000" stroke-width="0.95">Total reads kept</text>
<text x="1817.8" y="848.68" font-size="17.2" fill="#858585" textLength="147.6" lengthAdjust="spacingAndGlyphs" stroke="#858585" stroke-width="0.75">Unbinned Contigs</text>
<text x="1817.8" y="867.63" font-size="17.2" textLength="148.8" lengthAdjust="spacingAndGlyphs" stroke="#000" stroke-width="0.8">NWS_MAG_00019</text>
<text x="1817.8" y="885.59" font-size="17.2" textLength="148.8" lengthAdjust="spacingAndGlyphs" stroke="#000" stroke-width="0.8">NWS_MAG_00018</text>
<text x="1817.8" y="903.54" font-size="17.2" textLength="148.8" lengthAdjust="spacingAndGlyphs" stroke="#000" stroke-width="0.8">NWS_MAG_00017</text>
<text x="1817.8" y="921.5" font-size="17.2" textLength="148.8" lengthAdjust="spacingAndGlyphs" stroke="#000" stroke-width="0.8">NWS_MAG_00016</text>
<text x="1817.8" y="939.45" font-size="17.2" textLength="148.8" lengthAdjust="spacingAndGlyphs" stroke="#000" stroke-width="0.8">NWS_MAG_00015</text>
<text x="1817.8" y="957.41" font-size="17.2" textLength="148.8" lengthAdjust="spacingAndGlyphs" stroke="#000" stroke-width="0.8">NWS_MAG_00014</text>
<text x="1817.8" y="975.36" font-size="17.2" textLength="148.8" lengthAdjust="spacingAndGlyphs" stroke="#000" stroke-width="0.8">NWS_MAG_00013</text>
<text x="1817.8" y="993.32" font-size="17.2" textLength="148.8" lengthAdjust="spacingAndGlyphs" stroke="#000" stroke-width="0.8">NWS_MAG_00012</text>
<text x="1817.8" y="1011.27" font-size="17.2" textLength="148.8" lengthAdjust="spacingAndGlyphs" stroke="#000" stroke-width="0.8">NWS_MAG_00011</text>
<text x="1817.8" y="1029.23" font-size="17.2" textLength="148.8" lengthAdjust="spacingAndGlyphs" stroke="#000" stroke-width="0.8">NWS_MAG_00010</text>
<text x="1817.8" y="1047.18" font-size="17.2" textLength="148.8" lengthAdjust="spacingAndGlyphs" stroke="#000" stroke-width="0.8">NWS_MAG_00009</text>
<text x="1817.8" y="1065.14" font-size="17.2" textLength="148.8" lengthAdjust="spacingAndGlyphs" stroke="#000" stroke-width="0.8">NWS_MAG_00008</text>
<text x="1817.8" y="1083.09" font-size="17.2" textLength="148.8" lengthAdjust="spacingAndGlyphs" stroke="#000" stroke-width="0.8">NWS_MAG_00007</text>
<text x="1817.8" y="1101.05" font-size="17.2" textLength="148.8" lengthAdjust="spacingAndGlyphs" stroke="#000" stroke-width="0.8">NWS_MAG_00006</text>
<text x="1817.8" y="1119" font-size="17.2" textLength="148.8" lengthAdjust="spacingAndGlyphs" stroke="#000" stroke-width="0.8">NWS_MAG_00005</text>
<text x="1817.8" y="1136.96" font-size="17.2" textLength="148.8" lengthAdjust="spacingAndGlyphs" stroke="#000" stroke-width="0.8">NWS_MAG_00004</text>
<text x="1817.8" y="1154.91" font-size="17.2" textLength="148.8" lengthAdjust="spacingAndGlyphs" stroke="#000" stroke-width="0.8">NWS_MAG_00003</text>
<text x="1817.8" y="1172.87" font-size="17.2" textLength="148.8" lengthAdjust="spacingAndGlyphs" stroke="#000" stroke-width="0.8">NWS_MAG_00002</text>
<text x="1817.8" y="1190.82" font-size="17.2" textLength="148.8" lengthAdjust="spacingAndGlyphs" stroke="#000" stroke-width="0.8">NWS_MAG_00001</text>
<text x="222.45" y="1200.9" font-size="19.5" text-anchor="end" transform="rotate(-90 222.45 1200.9)" stroke="#000" stroke-width="0.7">D40</text>
<text x="242.08" y="1200.9" font-size="19.5" text-anchor="end" transform="rotate(-90 242.08 1200.9)" stroke="#000" stroke-width="0.7">D33</text>
<text x="261.7" y="1200.9" font-size="19.5" text-anchor="end" transform="rotate(-90 261.7 1200.9)" stroke="#000" stroke-width="0.7">D37</text>
<text x="281.32" y="1200.9" font-size="19.5" text-anchor="end" transform="rotate(-90 281.32 1200.9)" stroke="#000" stroke-width="0.7">D112</text>
<text x="300.95" y="1200.9" font-size="19.5" text-anchor="end" transform="rotate(-90 300.95 1200.9)" stroke="#000" stroke-width="0.7">D81</text>
<text x="320.57" y="1200.9" font-size="19.5" text-anchor="end" transform="rotate(-90 320.57 1200.9)" stroke="#000" stroke-width="0.7">D31</text>
<text x="340.2" y="1200.9" font-size="19.5" text-anchor="end" transform="rotate(-90 340.2 1200.9)" stroke="#000" stroke-width="0.7">D114</text>
<text x="359.82" y="1200.9" font-size="19.5" text-anchor="end" transform="rotate(-90 359.82 1200.9)" stroke="#000" stroke-width="0.7">D541</text>
<text x="379.45" y="1200.9" font-size="19.5" text-anchor="end" transform="rotate(-90 379.45 1200.9)" stroke="#000" stroke-width="0.7">D18</text>
<text x="399.07" y="1200.9" font-size="19.5" text-anchor="end" transform="rotate(-90 399.07 1200.9)" stroke="#000" stroke-width="0.7">D77</text>
<text x="418.7" y="1200.9" font-size="19.5" text-anchor="end" transform="rotate(-90 418.7 1200.9)" stroke="#000" stroke-width="0.7">D97</text>
<text x="438.32" y="1200.9" font-size="19.5" text-anchor="end" transform="rotate(-90 438.32 1200.9)" stroke="#000" stroke-width="0.7">D90</text>
<text x="457.95" y="1200.9" font-size="19.5" text-anchor="end" transform="rotate(-90 457.95 1200.9)" stroke="#000" stroke-width="0.7">D44</text>
<text x="477.57" y="1200.9" font-size="19.5" text-anchor="end" transform="rotate(-90 477.57 1200.9)" stroke="#000" stroke-width="0.7">D109</text>
<text x="497.2" y="1200.9" font-size="19.5" text-anchor="end" transform="rotate(-90 497.2 1200.9)" stroke="#000" stroke-width="0.7">D10</text>
<text x="516.83" y="1200.9" font-size="19.5" text-anchor="end" transform="rotate(-90 516.83 1200.9)" stroke="#000" stroke-width="0.7">D27</text>
<text x="536.45" y="1200.9" font-size="19.5" text-anchor="end" transform="rotate(-90 536.45 1200.9)" stroke="#000" stroke-width="0.7">D113</text>
<text x="556.07" y="1200.9" font-size="19.5" text-anchor="end" transform="rotate(-90 556.07 1200.9)" stroke="#000" stroke-width="0.7">D45</text>
<text x="575.7" y="1200.9" font-size="19.5" text-anchor="end" transform="rotate(-90 575.7 1200.9)" stroke="#000" stroke-width="0.7">D542</text>
<text x="595.32" y="1200.9" font-size="19.5" text-anchor="end" transform="rotate(-90 595.32 1200.9)" stroke="#000" stroke-width="0.7">D75</text>
<text x="614.95" y="1200.9" font-size="19.5" text-anchor="end" transform="rotate(-90 614.95 1200.9)" stroke="#000" stroke-width="0.7">D20</text>
<text x="634.57" y="1200.9" font-size="19.5" text-anchor="end" transform="rotate(-90 634.57 1200.9)" stroke="#000" stroke-width="0.7">D41</text>
<text x="654.2" y="1200.9" font-size="19.5" text-anchor="end" transform="rotate(-90 654.2 1200.9)" stroke="#000" stroke-width="0.7">D82</text>
<text x="673.82" y="1200.9" font-size="19.5" text-anchor="end" transform="rotate(-90 673.82 1200.9)" stroke="#000" stroke-width="0.7">D64</text>
<text x="693.45" y="1200.9" font-size="19.5" text-anchor="end" transform="rotate(-90 693.45 1200.9)" stroke="#000" stroke-width="0.7">D8</text>
<text x="713.07" y="1200.9" font-size="19.5" text-anchor="end" transform="rotate(-90 713.07 1200.9)" stroke="#000" stroke-width="0.7">D59</text>
<text x="732.7" y="1200.9" font-size="19.5" text-anchor="end" transform="rotate(-90 732.7 1200.9)" stroke="#000" stroke-width="0.7">D14</text>
<text x="752.32" y="1200.9" font-size="19.5" text-anchor="end" transform="rotate(-90 752.32 1200.9)" stroke="#000" stroke-width="0.7">D4</text>
<text x="771.95" y="1200.9" font-size="19.5" text-anchor="end" transform="rotate(-90 771.95 1200.9)" stroke="#000" stroke-width="0.7">D111</text>
<text x="791.57" y="1200.9" font-size="19.5" text-anchor="end" transform="rotate(-90 791.57 1200.9)" stroke="#000" stroke-width="0.7">D51</text>
<text x="811.2" y="1200.9" font-size="19.5" text-anchor="end" transform="rotate(-90 811.2 1200.9)" stroke="#000" stroke-width="0.7">D87</text>
<text x="830.82" y="1200.9" font-size="19.5" text-anchor="end" transform="rotate(-90 830.82 1200.9)" stroke="#000" stroke-width="0.7">D99</text>
<text x="850.45" y="1200.9" font-size="19.5" text-anchor="end" transform="rotate(-90 850.45 1200.9)" stroke="#000" stroke-width="0.7">D22</text>
<text x="870.07" y="1200.9" font-size="19.5" text-anchor="end" transform="rotate(-90 870.07 1200.9)" stroke="#000" stroke-width="0.7">D73</text>
<text x="889.7" y="1200.9" font-size="19.5" text-anchor="end" transform="rotate(-90 889.7 1200.9)" stroke="#000" stroke-width="0.7">D47</text>
<text x="909.32" y="1200.9" font-size="19.5" text-anchor="end" transform="rotate(-90 909.32 1200.9)" stroke="#000" stroke-width="0.7">D104</text>
<text x="928.95" y="1200.9" font-size="19.5" text-anchor="end" transform="rotate(-90 928.95 1200.9)" stroke="#000" stroke-width="0.7">D98</text>
<text x="948.57" y="1200.9" font-size="19.5" text-anchor="end" transform="rotate(-90 948.57 1200.9)" stroke="#000" stroke-width="0.7">D48</text>
<text x="968.2" y="1200.9" font-size="19.5" text-anchor="end" transform="rotate(-90 968.2 1200.9)" stroke="#000" stroke-width="0.7">D35</text>
<text x="987.82" y="1200.9" font-size="19.5" text-anchor="end" transform="rotate(-90 987.82 1200.9)" stroke="#000" stroke-width="0.7">D110</text>
<text x="1007.45" y="1200.9" font-size="19.5" text-anchor="end" transform="rotate(-90 1007.45 1200.9)" stroke="#000" stroke-width="0.7">D100</text>
<text x="1027.07" y="1200.9" font-size="19.5" text-anchor="end" transform="rotate(-90 1027.07 1200.9)" stroke="#000" stroke-width="0.7">D79</text>
<text x="1046.7" y="1200.9" font-size="19.5" text-anchor="end" transform="rotate(-90 1046.7 1200.9)" stroke="#000" stroke-width="0.7">D69</text>
<text x="1066.33" y="1200.9" font-size="19.5" text-anchor="end" transform="rotate(-90 1066.33 1200.9)" stroke="#000" stroke-width="0.7">D11</text>
<text x="1085.95" y="1200.9" font-size="19.5" text-anchor="end" transform="rotate(-90 1085.95 1200.9)" stroke="#000" stroke-width="0.7">D16</text>
<text x="1105.58" y="1200.9" font-size="19.5" text-anchor="end" transform="rotate(-90 1105.58 1200.9)" stroke="#000" stroke-width="0.7">D34</text>
<text x="1125.2" y="1200.9" font-size="19.5" text-anchor="end" transform="rotate(-90 1125.2 1200.9)" stroke="#000" stroke-width="0.7">D55</text>
<text x="1144.83" y="1200.9" font-size="19.5" text-anchor="end" transform="rotate(-90 1144.83 1200.9)" stroke="#000" stroke-width="0.7">D84</text>
<text x="1164.45" y="1200.9" font-size="19.5" text-anchor="end" transform="rotate(-90 1164.45 1200.9)" stroke="#000" stroke-width="0.7">D13</text>
<text x="1184.08" y="1200.9" font-size="19.5" text-anchor="end" transform="rotate(-90 1184.08 1200.9)" stroke="#000" stroke-width="0.7">D83</text>
<text x="1203.7" y="1200.9" font-size="19.5" text-anchor="end" transform="rotate(-90 1203.7 1200.9)" stroke="#000" stroke-width="0.7">D70</text>
<text x="1223.33" y="1200.9" font-size="19.5" text-anchor="end" transform="rotate(-90 1223.33 1200.9)" stroke="#000" stroke-width="0.7">D9</text>
<text x="1242.95" y="1200.9" font-size="19.5" text-anchor="end" transform="rotate(-90 1242.95 1200.9)" stroke="#000" stroke-width="0.7">D24</text>
<text x="1262.58" y="1200.9" font-size="19.5" text-anchor="end" transform="rotate(-90 1262.58 1200.9)" stroke="#000" stroke-width="0.7">D30</text>
<text x="1282.2" y="1200.9" font-size="19.5" text-anchor="end" transform="rotate(-90 1282.2 1200.9)" stroke="#000" stroke-width="0.7">D53</text>
<text x="1301.83" y="1200.9" font-size="19.5" text-anchor="end" transform="rotate(-90 1301.83 1200.9)" stroke="#000" stroke-width="0.7">D17</text>
<text x="1321.45" y="1200.9" font-size="19.5" text-anchor="end" transform="rotate(-90 1321.45 1200.9)" stroke="#000" stroke-width="0.7">D7</text>
<text x="1341.08" y="1200.9" font-size="19.5" text-anchor="end" transform="rotate(-90 1341.08 1200.9)" stroke="#000" stroke-width="0.7">D2</text>
<text x="1360.7" y="1200.9" font-size="19.5" text-anchor="end" transform="rotate(-90 1360.7 1200.9)" stroke="#000" stroke-width="0.7">D38</text>
<text x="1380.33" y="1200.9" font-size="19.5" text-anchor="end" transform="rotate(-90 1380.33 1200.9)" stroke="#000" stroke-width="0.7">D36</text>
<text x="1399.95" y="1200.9" font-size="19.5" text-anchor="end" transform="rotate(-90 1399.95 1200.9)" stroke="#000" stroke-width="0.7">D85</text>
<text x="1419.58" y="1200.9" font-size="19.5" text-anchor="end" transform="rotate(-90 1419.58 1200.9)" stroke="#000" stroke-width="0.7">D26</text>
<text x="1439.2" y="1200.9" font-size="19.5" text-anchor="end" transform="rotate(-90 1439.2 1200.9)" stroke="#000" stroke-width="0.7">D65</text>
<text x="1458.83" y="1200.9" font-size="19.5" text-anchor="end" transform="rotate(-90 1458.83 1200.9)" stroke="#000" stroke-width="0.7">D15</text>
<text x="1478.45" y="1200.9" font-size="19.5" text-anchor="end" transform="rotate(-90 1478.45 1200.9)" stroke="#000" stroke-width="0.7">D88</text>
<text x="1498.08" y="1200.9" font-size="19.5" text-anchor="end" transform="rotate(-90 1498.08 1200.9)" stroke="#000" stroke-width="0.7">D32</text>
<text x="1517.7" y="1200.9" font-size="19.5" text-anchor="end" transform="rotate(-90 1517.7 1200.9)" stroke="#000" stroke-width="0.7">D92</text>
<text x="1537.33" y="1200.9" font-size="19.5" text-anchor="end" transform="rotate(-90 1537.33 1200.9)" stroke="#000" stroke-width="0.7">D21</text>
<text x="1556.95" y="1200.9" font-size="19.5" text-anchor="end" transform="rotate(-90 1556.95 1200.9)" stroke="#000" stroke-width="0.7">D71</text>
<text x="1576.58" y="1200.9" font-size="19.5" text-anchor="end" transform="rotate(-90 1576.58 1200.9)" stroke="#000" stroke-width="0.7">D42</text>
<text x="1596.2" y="1200.9" font-size="19.5" text-anchor="end" transform="rotate(-90 1596.2 1200.9)" stroke="#000" stroke-width="0.7">D12</text>
<text x="1615.83" y="1200.9" font-size="19.5" text-anchor="end" transform="rotate(-90 1615.83 1200.9)" stroke="#000" stroke-width="0.7">D60</text>
<text x="1635.45" y="1200.9" font-size="19.5" text-anchor="end" transform="rotate(-90 1635.45 1200.9)" stroke="#000" stroke-width="0.7">D23</text>
<text x="1655.08" y="1200.9" font-size="19.5" text-anchor="end" transform="rotate(-90 1655.08 1200.9)" stroke="#000" stroke-width="0.7">D93</text>
<text x="1674.7" y="1200.9" font-size="19.5" text-anchor="end" transform="rotate(-90 1674.7 1200.9)" stroke="#000" stroke-width="0.7">D46</text>
<text x="1694.33" y="1200.9" font-size="19.5" text-anchor="end" transform="rotate(-90 1694.33 1200.9)" stroke="#000" stroke-width="0.7">D3</text>
<text x="911.7" y="1319.9" font-size="36.2" text-anchor="middle" textLength="141" lengthAdjust="spacingAndGlyphs" stroke="#000" stroke-width="1.1">Samples</text>
<text x="2021.2" y="1004.7" font-size="36.3" text-anchor="middle" transform="rotate(-90 2021.2 1004.7)" textLength="96.5" lengthAdjust="spacingAndGlyphs" stroke="#000" stroke-width="1.4">MAGs</text>
<path d="M22.3 1196V1241.2H42.5" stroke="#000" stroke-width="1.8" fill="none"/>
<path d="M47.3 1241.2l-6.6 -2.7v5.4z" stroke="none" stroke-width="1" fill="#000"/>
<text x="48.8" y="1246.5" font-size="18.9" fill="#414141" textLength="145.8" lengthAdjust="spacingAndGlyphs" stroke="#414141" stroke-width="0.75">Length (Kbases)</text>
<path d="M202.3 1196V1269.4H175.5" stroke="#000" stroke-width="1.8" fill="none"/>
<path d="M170.6 1269.4l6.6 -2.7v5.4z" stroke="none" stroke-width="1" fill="#000"/>
<text x="23" y="1274" font-size="19.2" fill="#07471a" textLength="138" lengthAdjust="spacingAndGlyphs" stroke="#07471a" stroke-width="0.8">GC content (%)</text>
<path d="M1781.3 1196.9V1241.1H1805" stroke="#000" stroke-width="1.8" fill="none"/>
<path d="M1809.8 1241.1l-6.6 -2.7v5.4z" stroke="none" stroke-width="1" fill="#000"/>
<text x="1814" y="1246" font-size="20.1" fill="#4d0a0a" textLength="157.8" lengthAdjust="spacingAndGlyphs" stroke="#4d0a0a" stroke-width="0.8">Redundancy (%)</text>
<path d="M1724.5 1196.9V1264.5H1788.5" stroke="#000" stroke-width="1.8" fill="none"/>
<path d="M1793.2 1264.5l-6.6 -2.7v5.4z" stroke="none" stroke-width="1" fill="#000"/>
<text x="1798.6" y="1271" font-size="20.1" fill="#0a0a80" textLength="147.4" lengthAdjust="spacingAndGlyphs" stroke="#0a0a80" stroke-width="0.8">Completion (%)</text>
<text transform="translate(19.8 594.4) scale(0.84 1)" font-size="53" font-weight="bold" stroke="#000" stroke-width="2.2" style="stroke-linejoin:miter">c</text>
</g>
</svg>
</body></html>
